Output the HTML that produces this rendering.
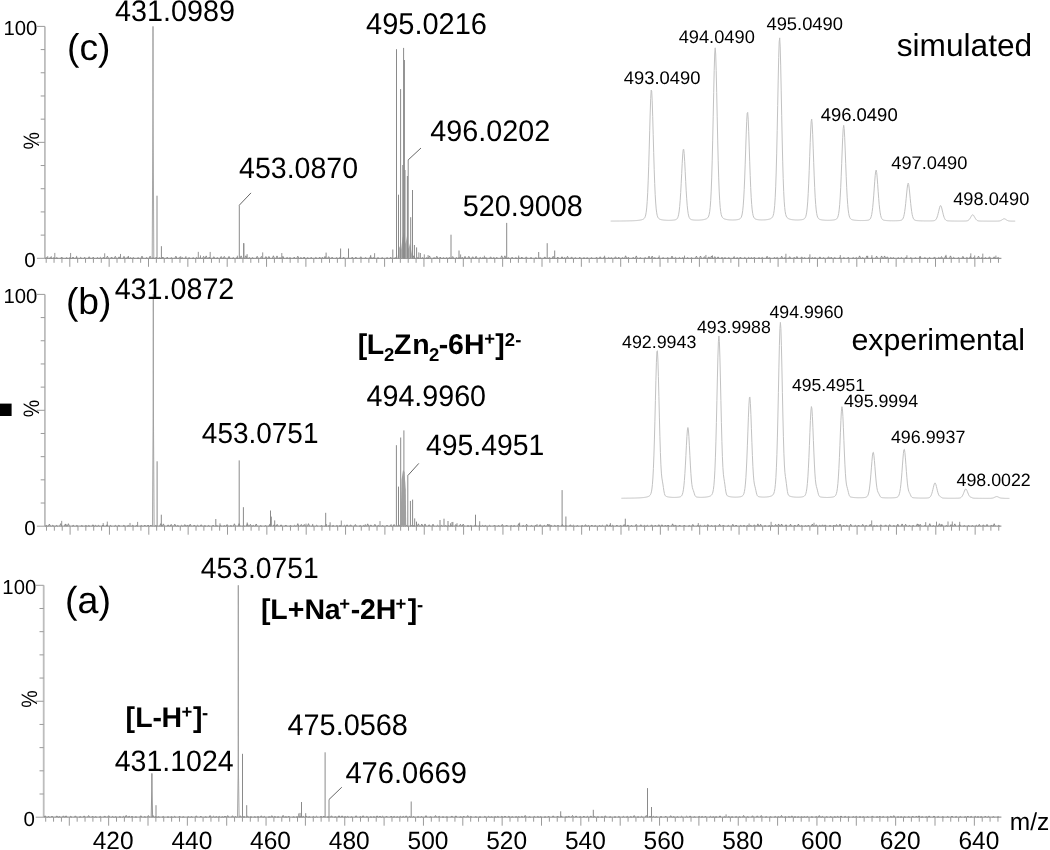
<!DOCTYPE html>
<html><head><meta charset="utf-8"><style>
html,body{margin:0;padding:0;background:#fff;}
body{width:1050px;height:850px;overflow:hidden;}
svg{display:block;filter:grayscale(1);}
text{font-family:"Liberation Sans", sans-serif;text-rendering:geometricPrecision;}
</style></head><body>
<svg width="1050" height="850" viewBox="0 0 1050 850">
<rect x="0" y="0" width="1050" height="850" fill="#fff"/>
<rect x="0" y="403.6" width="11.6" height="12.4" fill="#000"/>
<line x1="44.90" y1="26.40" x2="44.90" y2="258.30" stroke="#bdbdbd" stroke-width="1.8"/>
<line x1="36.90" y1="258.30" x2="44.90" y2="258.30" stroke="#9a9a9a" stroke-width="1"/>
<line x1="40.70" y1="235.11" x2="44.90" y2="235.11" stroke="#9a9a9a" stroke-width="1"/>
<line x1="40.70" y1="211.92" x2="44.90" y2="211.92" stroke="#9a9a9a" stroke-width="1"/>
<line x1="40.70" y1="188.73" x2="44.90" y2="188.73" stroke="#9a9a9a" stroke-width="1"/>
<line x1="40.70" y1="165.54" x2="44.90" y2="165.54" stroke="#9a9a9a" stroke-width="1"/>
<line x1="36.90" y1="142.35" x2="44.90" y2="142.35" stroke="#9a9a9a" stroke-width="1"/>
<line x1="40.70" y1="119.16" x2="44.90" y2="119.16" stroke="#9a9a9a" stroke-width="1"/>
<line x1="40.70" y1="95.97" x2="44.90" y2="95.97" stroke="#9a9a9a" stroke-width="1"/>
<line x1="40.70" y1="72.78" x2="44.90" y2="72.78" stroke="#9a9a9a" stroke-width="1"/>
<line x1="40.70" y1="49.59" x2="44.90" y2="49.59" stroke="#9a9a9a" stroke-width="1"/>
<line x1="36.90" y1="26.40" x2="44.90" y2="26.40" stroke="#9a9a9a" stroke-width="1"/>
<line x1="46.19" y1="258.30" x2="46.19" y2="262.80" stroke="#9a9a9a" stroke-width="1"/>
<line x1="54.06" y1="258.30" x2="54.06" y2="262.80" stroke="#9a9a9a" stroke-width="1"/>
<line x1="61.93" y1="258.30" x2="61.93" y2="262.80" stroke="#9a9a9a" stroke-width="1"/>
<line x1="69.80" y1="258.30" x2="69.80" y2="266.80" stroke="#9a9a9a" stroke-width="1"/>
<line x1="77.67" y1="258.30" x2="77.67" y2="262.80" stroke="#9a9a9a" stroke-width="1"/>
<line x1="85.54" y1="258.30" x2="85.54" y2="262.80" stroke="#9a9a9a" stroke-width="1"/>
<line x1="93.41" y1="258.30" x2="93.41" y2="262.80" stroke="#9a9a9a" stroke-width="1"/>
<line x1="101.28" y1="258.30" x2="101.28" y2="262.80" stroke="#9a9a9a" stroke-width="1"/>
<line x1="109.15" y1="258.30" x2="109.15" y2="266.80" stroke="#9a9a9a" stroke-width="1"/>
<line x1="117.02" y1="258.30" x2="117.02" y2="262.80" stroke="#9a9a9a" stroke-width="1"/>
<line x1="124.89" y1="258.30" x2="124.89" y2="262.80" stroke="#9a9a9a" stroke-width="1"/>
<line x1="132.76" y1="258.30" x2="132.76" y2="262.80" stroke="#9a9a9a" stroke-width="1"/>
<line x1="140.63" y1="258.30" x2="140.63" y2="262.80" stroke="#9a9a9a" stroke-width="1"/>
<line x1="148.50" y1="258.30" x2="148.50" y2="266.80" stroke="#9a9a9a" stroke-width="1"/>
<line x1="156.37" y1="258.30" x2="156.37" y2="262.80" stroke="#9a9a9a" stroke-width="1"/>
<line x1="164.24" y1="258.30" x2="164.24" y2="262.80" stroke="#9a9a9a" stroke-width="1"/>
<line x1="172.11" y1="258.30" x2="172.11" y2="262.80" stroke="#9a9a9a" stroke-width="1"/>
<line x1="179.98" y1="258.30" x2="179.98" y2="262.80" stroke="#9a9a9a" stroke-width="1"/>
<line x1="187.85" y1="258.30" x2="187.85" y2="266.80" stroke="#9a9a9a" stroke-width="1"/>
<line x1="195.72" y1="258.30" x2="195.72" y2="262.80" stroke="#9a9a9a" stroke-width="1"/>
<line x1="203.59" y1="258.30" x2="203.59" y2="262.80" stroke="#9a9a9a" stroke-width="1"/>
<line x1="211.46" y1="258.30" x2="211.46" y2="262.80" stroke="#9a9a9a" stroke-width="1"/>
<line x1="219.33" y1="258.30" x2="219.33" y2="262.80" stroke="#9a9a9a" stroke-width="1"/>
<line x1="227.20" y1="258.30" x2="227.20" y2="266.80" stroke="#9a9a9a" stroke-width="1"/>
<line x1="235.07" y1="258.30" x2="235.07" y2="262.80" stroke="#9a9a9a" stroke-width="1"/>
<line x1="242.94" y1="258.30" x2="242.94" y2="262.80" stroke="#9a9a9a" stroke-width="1"/>
<line x1="250.81" y1="258.30" x2="250.81" y2="262.80" stroke="#9a9a9a" stroke-width="1"/>
<line x1="258.68" y1="258.30" x2="258.68" y2="262.80" stroke="#9a9a9a" stroke-width="1"/>
<line x1="266.55" y1="258.30" x2="266.55" y2="266.80" stroke="#9a9a9a" stroke-width="1"/>
<line x1="274.42" y1="258.30" x2="274.42" y2="262.80" stroke="#9a9a9a" stroke-width="1"/>
<line x1="282.29" y1="258.30" x2="282.29" y2="262.80" stroke="#9a9a9a" stroke-width="1"/>
<line x1="290.16" y1="258.30" x2="290.16" y2="262.80" stroke="#9a9a9a" stroke-width="1"/>
<line x1="298.03" y1="258.30" x2="298.03" y2="262.80" stroke="#9a9a9a" stroke-width="1"/>
<line x1="305.90" y1="258.30" x2="305.90" y2="266.80" stroke="#9a9a9a" stroke-width="1"/>
<line x1="313.77" y1="258.30" x2="313.77" y2="262.80" stroke="#9a9a9a" stroke-width="1"/>
<line x1="321.64" y1="258.30" x2="321.64" y2="262.80" stroke="#9a9a9a" stroke-width="1"/>
<line x1="329.51" y1="258.30" x2="329.51" y2="262.80" stroke="#9a9a9a" stroke-width="1"/>
<line x1="337.38" y1="258.30" x2="337.38" y2="262.80" stroke="#9a9a9a" stroke-width="1"/>
<line x1="345.25" y1="258.30" x2="345.25" y2="266.80" stroke="#9a9a9a" stroke-width="1"/>
<line x1="353.12" y1="258.30" x2="353.12" y2="262.80" stroke="#9a9a9a" stroke-width="1"/>
<line x1="360.99" y1="258.30" x2="360.99" y2="262.80" stroke="#9a9a9a" stroke-width="1"/>
<line x1="368.86" y1="258.30" x2="368.86" y2="262.80" stroke="#9a9a9a" stroke-width="1"/>
<line x1="376.73" y1="258.30" x2="376.73" y2="262.80" stroke="#9a9a9a" stroke-width="1"/>
<line x1="384.60" y1="258.30" x2="384.60" y2="266.80" stroke="#9a9a9a" stroke-width="1"/>
<line x1="392.47" y1="258.30" x2="392.47" y2="262.80" stroke="#9a9a9a" stroke-width="1"/>
<line x1="400.34" y1="258.30" x2="400.34" y2="262.80" stroke="#9a9a9a" stroke-width="1"/>
<line x1="408.21" y1="258.30" x2="408.21" y2="262.80" stroke="#9a9a9a" stroke-width="1"/>
<line x1="416.08" y1="258.30" x2="416.08" y2="262.80" stroke="#9a9a9a" stroke-width="1"/>
<line x1="423.95" y1="258.30" x2="423.95" y2="266.80" stroke="#9a9a9a" stroke-width="1"/>
<line x1="431.82" y1="258.30" x2="431.82" y2="262.80" stroke="#9a9a9a" stroke-width="1"/>
<line x1="439.69" y1="258.30" x2="439.69" y2="262.80" stroke="#9a9a9a" stroke-width="1"/>
<line x1="447.56" y1="258.30" x2="447.56" y2="262.80" stroke="#9a9a9a" stroke-width="1"/>
<line x1="455.43" y1="258.30" x2="455.43" y2="262.80" stroke="#9a9a9a" stroke-width="1"/>
<line x1="463.30" y1="258.30" x2="463.30" y2="266.80" stroke="#9a9a9a" stroke-width="1"/>
<line x1="471.17" y1="258.30" x2="471.17" y2="262.80" stroke="#9a9a9a" stroke-width="1"/>
<line x1="479.04" y1="258.30" x2="479.04" y2="262.80" stroke="#9a9a9a" stroke-width="1"/>
<line x1="486.91" y1="258.30" x2="486.91" y2="262.80" stroke="#9a9a9a" stroke-width="1"/>
<line x1="494.78" y1="258.30" x2="494.78" y2="262.80" stroke="#9a9a9a" stroke-width="1"/>
<line x1="502.65" y1="258.30" x2="502.65" y2="266.80" stroke="#9a9a9a" stroke-width="1"/>
<line x1="510.52" y1="258.30" x2="510.52" y2="262.80" stroke="#9a9a9a" stroke-width="1"/>
<line x1="518.39" y1="258.30" x2="518.39" y2="262.80" stroke="#9a9a9a" stroke-width="1"/>
<line x1="526.26" y1="258.30" x2="526.26" y2="262.80" stroke="#9a9a9a" stroke-width="1"/>
<line x1="534.13" y1="258.30" x2="534.13" y2="262.80" stroke="#9a9a9a" stroke-width="1"/>
<line x1="542.00" y1="258.30" x2="542.00" y2="266.80" stroke="#9a9a9a" stroke-width="1"/>
<line x1="549.87" y1="258.30" x2="549.87" y2="262.80" stroke="#9a9a9a" stroke-width="1"/>
<line x1="557.74" y1="258.30" x2="557.74" y2="262.80" stroke="#9a9a9a" stroke-width="1"/>
<line x1="565.61" y1="258.30" x2="565.61" y2="262.80" stroke="#9a9a9a" stroke-width="1"/>
<line x1="573.48" y1="258.30" x2="573.48" y2="262.80" stroke="#9a9a9a" stroke-width="1"/>
<line x1="581.35" y1="258.30" x2="581.35" y2="266.80" stroke="#9a9a9a" stroke-width="1"/>
<line x1="589.22" y1="258.30" x2="589.22" y2="262.80" stroke="#9a9a9a" stroke-width="1"/>
<line x1="597.09" y1="258.30" x2="597.09" y2="262.80" stroke="#9a9a9a" stroke-width="1"/>
<line x1="604.96" y1="258.30" x2="604.96" y2="262.80" stroke="#9a9a9a" stroke-width="1"/>
<line x1="612.83" y1="258.30" x2="612.83" y2="262.80" stroke="#9a9a9a" stroke-width="1"/>
<line x1="620.70" y1="258.30" x2="620.70" y2="266.80" stroke="#9a9a9a" stroke-width="1"/>
<line x1="628.57" y1="258.30" x2="628.57" y2="262.80" stroke="#9a9a9a" stroke-width="1"/>
<line x1="636.44" y1="258.30" x2="636.44" y2="262.80" stroke="#9a9a9a" stroke-width="1"/>
<line x1="644.31" y1="258.30" x2="644.31" y2="262.80" stroke="#9a9a9a" stroke-width="1"/>
<line x1="652.18" y1="258.30" x2="652.18" y2="262.80" stroke="#9a9a9a" stroke-width="1"/>
<line x1="660.05" y1="258.30" x2="660.05" y2="266.80" stroke="#9a9a9a" stroke-width="1"/>
<line x1="667.92" y1="258.30" x2="667.92" y2="262.80" stroke="#9a9a9a" stroke-width="1"/>
<line x1="675.79" y1="258.30" x2="675.79" y2="262.80" stroke="#9a9a9a" stroke-width="1"/>
<line x1="683.66" y1="258.30" x2="683.66" y2="262.80" stroke="#9a9a9a" stroke-width="1"/>
<line x1="691.53" y1="258.30" x2="691.53" y2="262.80" stroke="#9a9a9a" stroke-width="1"/>
<line x1="699.40" y1="258.30" x2="699.40" y2="266.80" stroke="#9a9a9a" stroke-width="1"/>
<line x1="707.27" y1="258.30" x2="707.27" y2="262.80" stroke="#9a9a9a" stroke-width="1"/>
<line x1="715.14" y1="258.30" x2="715.14" y2="262.80" stroke="#9a9a9a" stroke-width="1"/>
<line x1="723.01" y1="258.30" x2="723.01" y2="262.80" stroke="#9a9a9a" stroke-width="1"/>
<line x1="730.88" y1="258.30" x2="730.88" y2="262.80" stroke="#9a9a9a" stroke-width="1"/>
<line x1="738.75" y1="258.30" x2="738.75" y2="266.80" stroke="#9a9a9a" stroke-width="1"/>
<line x1="746.62" y1="258.30" x2="746.62" y2="262.80" stroke="#9a9a9a" stroke-width="1"/>
<line x1="754.49" y1="258.30" x2="754.49" y2="262.80" stroke="#9a9a9a" stroke-width="1"/>
<line x1="762.36" y1="258.30" x2="762.36" y2="262.80" stroke="#9a9a9a" stroke-width="1"/>
<line x1="770.23" y1="258.30" x2="770.23" y2="262.80" stroke="#9a9a9a" stroke-width="1"/>
<line x1="778.10" y1="258.30" x2="778.10" y2="266.80" stroke="#9a9a9a" stroke-width="1"/>
<line x1="785.97" y1="258.30" x2="785.97" y2="262.80" stroke="#9a9a9a" stroke-width="1"/>
<line x1="793.84" y1="258.30" x2="793.84" y2="262.80" stroke="#9a9a9a" stroke-width="1"/>
<line x1="801.71" y1="258.30" x2="801.71" y2="262.80" stroke="#9a9a9a" stroke-width="1"/>
<line x1="809.58" y1="258.30" x2="809.58" y2="262.80" stroke="#9a9a9a" stroke-width="1"/>
<line x1="817.45" y1="258.30" x2="817.45" y2="266.80" stroke="#9a9a9a" stroke-width="1"/>
<line x1="825.32" y1="258.30" x2="825.32" y2="262.80" stroke="#9a9a9a" stroke-width="1"/>
<line x1="833.19" y1="258.30" x2="833.19" y2="262.80" stroke="#9a9a9a" stroke-width="1"/>
<line x1="841.06" y1="258.30" x2="841.06" y2="262.80" stroke="#9a9a9a" stroke-width="1"/>
<line x1="848.93" y1="258.30" x2="848.93" y2="262.80" stroke="#9a9a9a" stroke-width="1"/>
<line x1="856.80" y1="258.30" x2="856.80" y2="266.80" stroke="#9a9a9a" stroke-width="1"/>
<line x1="864.67" y1="258.30" x2="864.67" y2="262.80" stroke="#9a9a9a" stroke-width="1"/>
<line x1="872.54" y1="258.30" x2="872.54" y2="262.80" stroke="#9a9a9a" stroke-width="1"/>
<line x1="880.41" y1="258.30" x2="880.41" y2="262.80" stroke="#9a9a9a" stroke-width="1"/>
<line x1="888.28" y1="258.30" x2="888.28" y2="262.80" stroke="#9a9a9a" stroke-width="1"/>
<line x1="896.15" y1="258.30" x2="896.15" y2="266.80" stroke="#9a9a9a" stroke-width="1"/>
<line x1="904.02" y1="258.30" x2="904.02" y2="262.80" stroke="#9a9a9a" stroke-width="1"/>
<line x1="911.89" y1="258.30" x2="911.89" y2="262.80" stroke="#9a9a9a" stroke-width="1"/>
<line x1="919.76" y1="258.30" x2="919.76" y2="262.80" stroke="#9a9a9a" stroke-width="1"/>
<line x1="927.63" y1="258.30" x2="927.63" y2="262.80" stroke="#9a9a9a" stroke-width="1"/>
<line x1="935.50" y1="258.30" x2="935.50" y2="266.80" stroke="#9a9a9a" stroke-width="1"/>
<line x1="943.37" y1="258.30" x2="943.37" y2="262.80" stroke="#9a9a9a" stroke-width="1"/>
<line x1="951.24" y1="258.30" x2="951.24" y2="262.80" stroke="#9a9a9a" stroke-width="1"/>
<line x1="959.11" y1="258.30" x2="959.11" y2="262.80" stroke="#9a9a9a" stroke-width="1"/>
<line x1="966.98" y1="258.30" x2="966.98" y2="262.80" stroke="#9a9a9a" stroke-width="1"/>
<line x1="974.85" y1="258.30" x2="974.85" y2="266.80" stroke="#9a9a9a" stroke-width="1"/>
<line x1="982.72" y1="258.30" x2="982.72" y2="262.80" stroke="#9a9a9a" stroke-width="1"/>
<line x1="990.59" y1="258.30" x2="990.59" y2="262.80" stroke="#9a9a9a" stroke-width="1"/>
<line x1="998.46" y1="258.30" x2="998.46" y2="262.80" stroke="#9a9a9a" stroke-width="1"/>
<line x1="44.90" y1="258.30" x2="1001.40" y2="258.30" stroke="#9a9a9a" stroke-width="1.3"/>
<path d="M45.4 258.30L46.4 257.49L47.4 258.30M49.3 258.30L50.3 257.43L51.3 258.30M52.9 258.30L53.9 257.69L54.9 258.30M55.8 258.30L56.8 257.60L57.8 258.30M60.7 258.30L61.7 257.03L62.7 258.30M65.6 258.30L66.6 257.70L67.6 258.30M68.9 258.30L69.9 257.66L70.9 258.30M72.0 258.30L73.0 257.02L74.0 258.30M75.5 258.30L76.5 257.10L77.5 258.30M79.7 258.30L80.7 257.33L81.7 258.30M83.7 258.30L84.7 257.29L85.7 258.30M88.2 258.30L89.2 256.72L90.2 258.30M92.2 258.30L93.2 257.15L94.2 258.30M96.5 258.30L97.5 257.53L98.5 258.30M99.4 258.30L100.4 257.35L101.4 258.30M102.4 258.30L103.4 257.22L104.4 258.30M106.4 258.30L107.4 256.17L108.4 258.30M110.6 258.30L111.6 256.99L112.6 258.30M114.3 258.30L115.3 256.29L116.3 258.30M118.1 258.30L119.1 256.82L120.1 258.30M123.0 258.30L124.0 256.35L125.0 258.30M126.6 258.30L127.6 256.81L128.6 258.30M129.5 258.30L130.5 257.69L131.5 258.30M132.4 258.30L133.4 257.58L134.4 258.30M137.1 258.30L138.1 257.69L139.1 258.30M141.0 258.30L142.0 256.14L143.0 258.30M145.6 258.30L146.6 257.54L147.6 258.30M149.1 258.30L150.1 256.14L151.1 258.30M152.1 258.30L153.1 257.64L154.1 258.30M155.2 258.30L156.2 257.23L157.2 258.30M158.5 258.30L159.5 257.70L160.5 258.30M161.9 258.30L162.9 257.06L163.9 258.30M166.2 258.30L167.2 257.17L168.2 258.30M170.4 258.30L171.4 257.69L172.4 258.30M174.9 258.30L175.9 256.17L176.9 258.30M178.4 258.30L179.4 257.38L180.4 258.30M181.2 258.30L182.2 257.61L183.2 258.30M184.6 258.30L185.6 257.69L186.6 258.30M188.1 258.30L189.1 257.70L190.1 258.30M192.2 258.30L193.2 257.66L194.2 258.30M195.6 258.30L196.6 257.43L197.6 258.30M199.3 258.30L200.3 257.23L201.3 258.30M202.6 258.30L203.6 256.33L204.6 258.30M205.2 258.30L206.2 255.89L207.2 258.30M208.2 258.30L209.2 257.11L210.2 258.30M212.8 258.30L213.8 256.73L214.8 258.30M216.3 258.30L217.3 257.64L218.3 258.30M220.2 258.30L221.2 256.49L222.2 258.30M223.3 258.30L224.3 256.38L225.3 258.30M228.0 258.30L229.0 256.40L230.0 258.30M232.3 258.30L233.3 257.60L234.3 258.30M235.8 258.30L236.8 257.70L237.8 258.30M240.1 258.30L241.1 255.87L242.1 258.30M244.9 258.30L245.9 255.75L246.9 258.30M248.4 258.30L249.4 257.60L250.4 258.30M251.5 258.30L252.5 257.62L253.5 258.30M256.2 258.30L257.2 256.29L258.2 258.30M260.4 258.30L261.4 256.42L262.4 258.30M264.9 258.30L265.9 256.57L266.9 258.30M267.9 258.30L268.9 256.45L269.9 258.30M272.4 258.30L273.4 255.81L274.4 258.30M276.0 258.30L277.0 255.91L278.0 258.30M279.0 258.30L280.0 257.67L281.0 258.30M281.9 258.30L282.9 256.33L283.9 258.30M286.1 258.30L287.1 257.45L288.1 258.30M289.0 258.30L290.0 257.70L291.0 258.30M293.2 258.30L294.2 257.15L295.2 258.30M296.8 258.30L297.8 256.18L298.8 258.30M299.9 258.30L300.9 257.57L301.9 258.30M303.1 258.30L304.1 257.01L305.1 258.30M306.7 258.30L307.7 257.67L308.7 258.30M310.2 258.30L311.2 257.28L312.2 258.30M314.9 258.30L315.9 257.35L316.9 258.30M318.7 258.30L319.7 257.13L320.7 258.30M321.4 258.30L322.4 257.31L323.4 258.30M324.0 258.30L325.0 256.42L326.0 258.30M327.7 258.30L328.7 256.65L329.7 258.30M331.1 258.30L332.1 257.16L333.1 258.30M335.6 258.30L336.6 257.68L337.6 258.30M338.8 258.30L339.8 257.55L340.8 258.30M342.6 258.30L343.6 257.07L344.6 258.30M347.4 258.30L348.4 257.31L349.4 258.30M351.2 258.30L352.2 257.18L353.2 258.30M354.9 258.30L355.9 257.13L356.9 258.30M359.8 258.30L360.8 256.72L361.8 258.30M364.6 258.30L365.6 257.57L366.6 258.30M369.5 258.30L370.5 256.29L371.5 258.30M372.3 258.30L373.3 257.58L374.3 258.30M377.0 258.30L378.0 257.65L379.0 258.30M381.2 258.30L382.2 257.66L383.2 258.30M386.1 258.30L387.1 257.60L388.1 258.30M389.7 258.30L390.7 257.23L391.7 258.30M394.3 258.30L395.3 257.65L396.3 258.30M398.1 258.30L399.1 257.47L400.1 258.30M401.5 258.30L402.5 256.66L403.5 258.30M404.1 258.30L405.1 257.48L406.1 258.30M407.9 258.30L408.9 257.69L409.9 258.30M412.4 258.30L413.4 255.81L414.4 258.30M416.9 258.30L417.9 257.55L418.9 258.30M421.5 258.30L422.5 257.57L423.5 258.30M425.8 258.30L426.8 257.68L427.8 258.30M428.5 258.30L429.5 255.94L430.5 258.30M433.1 258.30L434.1 257.69L435.1 258.30M435.8 258.30L436.8 256.21L437.8 258.30M439.2 258.30L440.2 257.09L441.2 258.30M442.5 258.30L443.5 257.67L444.5 258.30M445.6 258.30L446.6 257.68L447.6 258.30M448.4 258.30L449.4 257.62L450.4 258.30M451.7 258.30L452.7 256.55L453.7 258.30M455.5 258.30L456.5 257.64L457.5 258.30M458.1 258.30L459.1 257.57L460.1 258.30M461.2 258.30L462.2 257.25L463.2 258.30M464.0 258.30L465.0 256.36L466.0 258.30M467.8 258.30L468.8 256.31L469.8 258.30M471.7 258.30L472.7 256.75L473.7 258.30M475.1 258.30L476.1 256.31L477.1 258.30M479.2 258.30L480.2 257.37L481.2 258.30M481.9 258.30L482.9 257.67L483.9 258.30M484.9 258.30L485.9 257.69L486.9 258.30M489.6 258.30L490.6 256.80L491.6 258.30M492.8 258.30L493.8 257.53L494.8 258.30M495.8 258.30L496.8 257.30L497.8 258.30M500.7 258.30L501.7 255.81L502.7 258.30M503.9 258.30L504.9 255.83L505.9 258.30M507.3 258.30L508.3 257.70L509.3 258.30M511.1 258.30L512.1 257.19L513.1 258.30M514.9 258.30L515.9 257.70L516.9 258.30M517.7 258.30L518.7 257.38L519.7 258.30M520.8 258.30L521.8 257.01L522.8 258.30M525.3 258.30L526.3 256.84L527.3 258.30M530.0 258.30L531.0 257.40L532.0 258.30M534.9 258.30L535.9 257.66L536.9 258.30M539.1 258.30L540.1 257.70L541.1 258.30M543.8 258.30L544.8 256.91L545.8 258.30M548.4 258.30L549.4 257.66L550.4 258.30M552.2 258.30L553.2 256.31L554.2 258.30M556.8 258.30L557.8 257.02L558.8 258.30M561.0 258.30L562.0 256.74L563.0 258.30M563.7 258.30L564.7 257.66L565.7 258.30M566.5 258.30L567.5 256.30L568.5 258.30M570.6 258.30L571.6 256.92L572.6 258.30M574.4 258.30L575.4 257.70L576.4 258.30M578.8 258.30L579.8 257.19L580.8 258.30M583.0 258.30L584.0 257.69L585.0 258.30M586.2 258.30L587.2 257.69L588.2 258.30M590.5 258.30L591.5 257.62L592.5 258.30M595.5 258.30L596.5 257.21L597.5 258.30M599.2 258.30L600.2 256.77L601.2 258.30M603.3 258.30L604.3 256.87L605.3 258.30M607.7 258.30L608.7 257.51L609.7 258.30M610.3 258.30L611.3 257.69L612.3 258.30M614.5 258.30L615.5 256.74L616.5 258.30M617.8 258.30L618.8 257.17L619.8 258.30M621.5 258.30L622.5 257.67L623.5 258.30M624.6 258.30L625.6 255.79L626.6 258.30M627.3 258.30L628.3 257.28L629.3 258.30M632.2 258.30L633.2 257.30L634.2 258.30M635.3 258.30L636.3 255.91L637.3 258.30M639.3 258.30L640.3 257.66L641.3 258.30M644.2 258.30L645.2 257.66L646.2 258.30M648.0 258.30L649.0 256.13L650.0 258.30M651.2 258.30L652.2 256.09L653.2 258.30M653.8 258.30L654.8 257.70L655.8 258.30M657.5 258.30L658.5 257.52L659.5 258.30M662.1 258.30L663.1 257.70L664.1 258.30M666.7 258.30L667.7 257.67L668.7 258.30M671.0 258.30L672.0 256.07L673.0 258.30M674.5 258.30L675.5 257.39L676.5 258.30M678.5 258.30L679.5 257.44L680.5 258.30M681.8 258.30L682.8 257.70L683.8 258.30M686.6 258.30L687.6 257.58L688.6 258.30M690.5 258.30L691.5 257.63L692.5 258.30M695.4 258.30L696.4 256.14L697.4 258.30M699.5 258.30L700.5 256.03L701.5 258.30M703.4 258.30L704.4 256.66L705.4 258.30M707.8 258.30L708.8 256.87L709.8 258.30M710.5 258.30L711.5 255.98L712.5 258.30M713.8 258.30L714.8 256.61L715.8 258.30M717.1 258.30L718.1 256.84L719.1 258.30M721.0 258.30L722.0 257.39L723.0 258.30M724.0 258.30L725.0 257.61L726.0 258.30M727.8 258.30L728.8 257.60L729.8 258.30M732.8 258.30L733.8 257.30L734.8 258.30M736.2 258.30L737.2 257.68L738.2 258.30M739.4 258.30L740.4 257.05L741.4 258.30M743.8 258.30L744.8 257.36L745.8 258.30M747.7 258.30L748.7 257.42L749.7 258.30M750.4 258.30L751.4 257.55L752.4 258.30M753.3 258.30L754.3 257.19L755.3 258.30M758.0 258.30L759.0 257.61L760.0 258.30M761.2 258.30L762.2 257.38L763.2 258.30M766.1 258.30L767.1 256.26L768.1 258.30M768.7 258.30L769.7 257.70L770.7 258.30M773.5 258.30L774.5 257.25L775.5 258.30M776.1 258.30L777.1 257.39L778.1 258.30M780.7 258.30L781.7 256.24L782.7 258.30M783.9 258.30L784.9 257.68L785.9 258.30M788.7 258.30L789.7 256.66L790.7 258.30M793.2 258.30L794.2 257.28L795.2 258.30M795.9 258.30L796.9 256.48L797.9 258.30M800.7 258.30L801.7 256.87L802.7 258.30M803.6 258.30L804.6 257.57L805.6 258.30M807.8 258.30L808.8 257.67L809.8 258.30M811.4 258.30L812.4 257.60L813.4 258.30M814.0 258.30L815.0 257.52L816.0 258.30M818.9 258.30L819.9 256.87L820.9 258.30M822.6 258.30L823.6 257.59L824.6 258.30M827.5 258.30L828.5 256.71L829.5 258.30M830.2 258.30L831.2 257.20L832.2 258.30M833.8 258.30L834.8 257.57L835.8 258.30M838.6 258.30L839.6 257.60L840.6 258.30M842.9 258.30L843.9 257.62L844.9 258.30M847.2 258.30L848.2 257.19L849.2 258.30M852.2 258.30L853.2 257.51L854.2 258.30M855.3 258.30L856.3 257.60L857.3 258.30M858.6 258.30L859.6 255.89L860.6 258.30M861.7 258.30L862.7 257.60L863.7 258.30M865.9 258.30L866.9 255.90L867.9 258.30M870.8 258.30L871.8 257.66L872.8 258.30M875.6 258.30L876.6 256.14L877.6 258.30M880.6 258.30L881.6 255.96L882.6 258.30M883.6 258.30L884.6 255.95L885.6 258.30M886.3 258.30L887.3 256.82L888.3 258.30M889.8 258.30L890.8 257.48L891.8 258.30M892.4 258.30L893.4 257.54L894.4 258.30M897.3 258.30L898.3 257.67L899.3 258.30M900.4 258.30L901.4 257.45L902.4 258.30M905.0 258.30L906.0 257.33L907.0 258.30M909.8 258.30L910.8 257.63L911.8 258.30M914.5 258.30L915.5 257.70L916.5 258.30M919.1 258.30L920.1 256.52L921.1 258.30M923.9 258.30L924.9 257.57L925.9 258.30M928.6 258.30L929.6 257.47L930.6 258.30M933.5 258.30L934.5 256.94L935.5 258.30M937.8 258.30L938.8 257.50L939.8 258.30M940.5 258.30L941.5 256.56L942.5 258.30M944.6 258.30L945.6 255.92L946.6 258.30M949.5 258.30L950.5 255.88L951.5 258.30M952.7 258.30L953.7 257.33L954.7 258.30M957.5 258.30L958.5 257.63L959.5 258.30M961.9 258.30L962.9 256.35L963.9 258.30M965.9 258.30L966.9 257.49L967.9 258.30M969.4 258.30L970.4 256.48L971.4 258.30M972.6 258.30L973.6 257.69L974.6 258.30M977.5 258.30L978.5 256.14L979.5 258.30M980.8 258.30L981.8 257.69L982.8 258.30M984.5 258.30L985.5 257.59L986.5 258.30M988.5 258.30L989.5 256.79L990.5 258.30M993.2 258.30L994.2 256.82L995.2 258.30M997.1 258.30L998.1 257.42L999.1 258.30" stroke="#7a7a7a" stroke-width="0.8" fill="none" stroke-linejoin="round"/><path d="M47.7 258.30V256.21M51.3 258.30V256.27M54.8 258.30V252.92M70.6 258.30V252.98M76.6 258.30V255.88M104.7 258.30V253.29M120.5 258.30V253.96M128.5 258.30V255.99M180.7 258.30V256.23M185.9 258.30V256.15M198.3 258.30V251.85M200.5 258.30V255.40M210.2 258.30V251.94M237.4 258.30V255.71M262.7 258.30V252.40M281.8 258.30V253.04M370.7 258.30V254.98M374.6 258.30V253.18M403.6 258.30V254.98M414.0 258.30V256.26M418.8 258.30V252.38M424.3 258.30V254.36M428.1 258.30V255.05M460.6 258.30V254.46M484.4 258.30V255.72M518.7 258.30V255.54M604.6 258.30V255.72M659.2 258.30V255.50M684.5 258.30V255.61M705.9 258.30V254.94M712.5 258.30V255.39M734.2 258.30V256.18M785.9 258.30V253.77M809.9 258.30V254.30M840.3 258.30V255.07M867.7 258.30V255.86M871.9 258.30V255.19M906.9 258.30V255.28M920.1 258.30V256.23M946.0 258.30V254.83M970.8 258.30V253.36M974.7 258.30V255.46M982.8 258.30V253.61M995.9 258.30V255.58" stroke="#8a8a8a" stroke-width="0.9" fill="none"/>
<line x1="44.90" y1="294.40" x2="44.90" y2="526.20" stroke="#bdbdbd" stroke-width="1.8"/>
<line x1="36.90" y1="526.20" x2="44.90" y2="526.20" stroke="#9a9a9a" stroke-width="1"/>
<line x1="40.70" y1="503.02" x2="44.90" y2="503.02" stroke="#9a9a9a" stroke-width="1"/>
<line x1="40.70" y1="479.84" x2="44.90" y2="479.84" stroke="#9a9a9a" stroke-width="1"/>
<line x1="40.70" y1="456.66" x2="44.90" y2="456.66" stroke="#9a9a9a" stroke-width="1"/>
<line x1="40.70" y1="433.48" x2="44.90" y2="433.48" stroke="#9a9a9a" stroke-width="1"/>
<line x1="36.90" y1="410.30" x2="44.90" y2="410.30" stroke="#9a9a9a" stroke-width="1"/>
<line x1="40.70" y1="387.12" x2="44.90" y2="387.12" stroke="#9a9a9a" stroke-width="1"/>
<line x1="40.70" y1="363.94" x2="44.90" y2="363.94" stroke="#9a9a9a" stroke-width="1"/>
<line x1="40.70" y1="340.76" x2="44.90" y2="340.76" stroke="#9a9a9a" stroke-width="1"/>
<line x1="40.70" y1="317.58" x2="44.90" y2="317.58" stroke="#9a9a9a" stroke-width="1"/>
<line x1="36.90" y1="294.40" x2="44.90" y2="294.40" stroke="#9a9a9a" stroke-width="1"/>
<line x1="46.49" y1="526.20" x2="46.49" y2="530.70" stroke="#9a9a9a" stroke-width="1"/>
<line x1="54.36" y1="526.20" x2="54.36" y2="530.70" stroke="#9a9a9a" stroke-width="1"/>
<line x1="62.23" y1="526.20" x2="62.23" y2="530.70" stroke="#9a9a9a" stroke-width="1"/>
<line x1="70.10" y1="526.20" x2="70.10" y2="534.70" stroke="#9a9a9a" stroke-width="1"/>
<line x1="77.97" y1="526.20" x2="77.97" y2="530.70" stroke="#9a9a9a" stroke-width="1"/>
<line x1="85.84" y1="526.20" x2="85.84" y2="530.70" stroke="#9a9a9a" stroke-width="1"/>
<line x1="93.71" y1="526.20" x2="93.71" y2="530.70" stroke="#9a9a9a" stroke-width="1"/>
<line x1="101.58" y1="526.20" x2="101.58" y2="530.70" stroke="#9a9a9a" stroke-width="1"/>
<line x1="109.45" y1="526.20" x2="109.45" y2="534.70" stroke="#9a9a9a" stroke-width="1"/>
<line x1="117.32" y1="526.20" x2="117.32" y2="530.70" stroke="#9a9a9a" stroke-width="1"/>
<line x1="125.19" y1="526.20" x2="125.19" y2="530.70" stroke="#9a9a9a" stroke-width="1"/>
<line x1="133.06" y1="526.20" x2="133.06" y2="530.70" stroke="#9a9a9a" stroke-width="1"/>
<line x1="140.93" y1="526.20" x2="140.93" y2="530.70" stroke="#9a9a9a" stroke-width="1"/>
<line x1="148.80" y1="526.20" x2="148.80" y2="534.70" stroke="#9a9a9a" stroke-width="1"/>
<line x1="156.67" y1="526.20" x2="156.67" y2="530.70" stroke="#9a9a9a" stroke-width="1"/>
<line x1="164.54" y1="526.20" x2="164.54" y2="530.70" stroke="#9a9a9a" stroke-width="1"/>
<line x1="172.41" y1="526.20" x2="172.41" y2="530.70" stroke="#9a9a9a" stroke-width="1"/>
<line x1="180.28" y1="526.20" x2="180.28" y2="530.70" stroke="#9a9a9a" stroke-width="1"/>
<line x1="188.15" y1="526.20" x2="188.15" y2="534.70" stroke="#9a9a9a" stroke-width="1"/>
<line x1="196.02" y1="526.20" x2="196.02" y2="530.70" stroke="#9a9a9a" stroke-width="1"/>
<line x1="203.89" y1="526.20" x2="203.89" y2="530.70" stroke="#9a9a9a" stroke-width="1"/>
<line x1="211.76" y1="526.20" x2="211.76" y2="530.70" stroke="#9a9a9a" stroke-width="1"/>
<line x1="219.63" y1="526.20" x2="219.63" y2="530.70" stroke="#9a9a9a" stroke-width="1"/>
<line x1="227.50" y1="526.20" x2="227.50" y2="534.70" stroke="#9a9a9a" stroke-width="1"/>
<line x1="235.37" y1="526.20" x2="235.37" y2="530.70" stroke="#9a9a9a" stroke-width="1"/>
<line x1="243.24" y1="526.20" x2="243.24" y2="530.70" stroke="#9a9a9a" stroke-width="1"/>
<line x1="251.11" y1="526.20" x2="251.11" y2="530.70" stroke="#9a9a9a" stroke-width="1"/>
<line x1="258.98" y1="526.20" x2="258.98" y2="530.70" stroke="#9a9a9a" stroke-width="1"/>
<line x1="266.85" y1="526.20" x2="266.85" y2="534.70" stroke="#9a9a9a" stroke-width="1"/>
<line x1="274.72" y1="526.20" x2="274.72" y2="530.70" stroke="#9a9a9a" stroke-width="1"/>
<line x1="282.59" y1="526.20" x2="282.59" y2="530.70" stroke="#9a9a9a" stroke-width="1"/>
<line x1="290.46" y1="526.20" x2="290.46" y2="530.70" stroke="#9a9a9a" stroke-width="1"/>
<line x1="298.33" y1="526.20" x2="298.33" y2="530.70" stroke="#9a9a9a" stroke-width="1"/>
<line x1="306.20" y1="526.20" x2="306.20" y2="534.70" stroke="#9a9a9a" stroke-width="1"/>
<line x1="314.07" y1="526.20" x2="314.07" y2="530.70" stroke="#9a9a9a" stroke-width="1"/>
<line x1="321.94" y1="526.20" x2="321.94" y2="530.70" stroke="#9a9a9a" stroke-width="1"/>
<line x1="329.81" y1="526.20" x2="329.81" y2="530.70" stroke="#9a9a9a" stroke-width="1"/>
<line x1="337.68" y1="526.20" x2="337.68" y2="530.70" stroke="#9a9a9a" stroke-width="1"/>
<line x1="345.55" y1="526.20" x2="345.55" y2="534.70" stroke="#9a9a9a" stroke-width="1"/>
<line x1="353.42" y1="526.20" x2="353.42" y2="530.70" stroke="#9a9a9a" stroke-width="1"/>
<line x1="361.29" y1="526.20" x2="361.29" y2="530.70" stroke="#9a9a9a" stroke-width="1"/>
<line x1="369.16" y1="526.20" x2="369.16" y2="530.70" stroke="#9a9a9a" stroke-width="1"/>
<line x1="377.03" y1="526.20" x2="377.03" y2="530.70" stroke="#9a9a9a" stroke-width="1"/>
<line x1="384.90" y1="526.20" x2="384.90" y2="534.70" stroke="#9a9a9a" stroke-width="1"/>
<line x1="392.77" y1="526.20" x2="392.77" y2="530.70" stroke="#9a9a9a" stroke-width="1"/>
<line x1="400.64" y1="526.20" x2="400.64" y2="530.70" stroke="#9a9a9a" stroke-width="1"/>
<line x1="408.51" y1="526.20" x2="408.51" y2="530.70" stroke="#9a9a9a" stroke-width="1"/>
<line x1="416.38" y1="526.20" x2="416.38" y2="530.70" stroke="#9a9a9a" stroke-width="1"/>
<line x1="424.25" y1="526.20" x2="424.25" y2="534.70" stroke="#9a9a9a" stroke-width="1"/>
<line x1="432.12" y1="526.20" x2="432.12" y2="530.70" stroke="#9a9a9a" stroke-width="1"/>
<line x1="439.99" y1="526.20" x2="439.99" y2="530.70" stroke="#9a9a9a" stroke-width="1"/>
<line x1="447.86" y1="526.20" x2="447.86" y2="530.70" stroke="#9a9a9a" stroke-width="1"/>
<line x1="455.73" y1="526.20" x2="455.73" y2="530.70" stroke="#9a9a9a" stroke-width="1"/>
<line x1="463.60" y1="526.20" x2="463.60" y2="534.70" stroke="#9a9a9a" stroke-width="1"/>
<line x1="471.47" y1="526.20" x2="471.47" y2="530.70" stroke="#9a9a9a" stroke-width="1"/>
<line x1="479.34" y1="526.20" x2="479.34" y2="530.70" stroke="#9a9a9a" stroke-width="1"/>
<line x1="487.21" y1="526.20" x2="487.21" y2="530.70" stroke="#9a9a9a" stroke-width="1"/>
<line x1="495.08" y1="526.20" x2="495.08" y2="530.70" stroke="#9a9a9a" stroke-width="1"/>
<line x1="502.95" y1="526.20" x2="502.95" y2="534.70" stroke="#9a9a9a" stroke-width="1"/>
<line x1="510.82" y1="526.20" x2="510.82" y2="530.70" stroke="#9a9a9a" stroke-width="1"/>
<line x1="518.69" y1="526.20" x2="518.69" y2="530.70" stroke="#9a9a9a" stroke-width="1"/>
<line x1="526.56" y1="526.20" x2="526.56" y2="530.70" stroke="#9a9a9a" stroke-width="1"/>
<line x1="534.43" y1="526.20" x2="534.43" y2="530.70" stroke="#9a9a9a" stroke-width="1"/>
<line x1="542.30" y1="526.20" x2="542.30" y2="534.70" stroke="#9a9a9a" stroke-width="1"/>
<line x1="550.17" y1="526.20" x2="550.17" y2="530.70" stroke="#9a9a9a" stroke-width="1"/>
<line x1="558.04" y1="526.20" x2="558.04" y2="530.70" stroke="#9a9a9a" stroke-width="1"/>
<line x1="565.91" y1="526.20" x2="565.91" y2="530.70" stroke="#9a9a9a" stroke-width="1"/>
<line x1="573.78" y1="526.20" x2="573.78" y2="530.70" stroke="#9a9a9a" stroke-width="1"/>
<line x1="581.65" y1="526.20" x2="581.65" y2="534.70" stroke="#9a9a9a" stroke-width="1"/>
<line x1="589.52" y1="526.20" x2="589.52" y2="530.70" stroke="#9a9a9a" stroke-width="1"/>
<line x1="597.39" y1="526.20" x2="597.39" y2="530.70" stroke="#9a9a9a" stroke-width="1"/>
<line x1="605.26" y1="526.20" x2="605.26" y2="530.70" stroke="#9a9a9a" stroke-width="1"/>
<line x1="613.13" y1="526.20" x2="613.13" y2="530.70" stroke="#9a9a9a" stroke-width="1"/>
<line x1="621.00" y1="526.20" x2="621.00" y2="534.70" stroke="#9a9a9a" stroke-width="1"/>
<line x1="628.87" y1="526.20" x2="628.87" y2="530.70" stroke="#9a9a9a" stroke-width="1"/>
<line x1="636.74" y1="526.20" x2="636.74" y2="530.70" stroke="#9a9a9a" stroke-width="1"/>
<line x1="644.61" y1="526.20" x2="644.61" y2="530.70" stroke="#9a9a9a" stroke-width="1"/>
<line x1="652.48" y1="526.20" x2="652.48" y2="530.70" stroke="#9a9a9a" stroke-width="1"/>
<line x1="660.35" y1="526.20" x2="660.35" y2="534.70" stroke="#9a9a9a" stroke-width="1"/>
<line x1="668.22" y1="526.20" x2="668.22" y2="530.70" stroke="#9a9a9a" stroke-width="1"/>
<line x1="676.09" y1="526.20" x2="676.09" y2="530.70" stroke="#9a9a9a" stroke-width="1"/>
<line x1="683.96" y1="526.20" x2="683.96" y2="530.70" stroke="#9a9a9a" stroke-width="1"/>
<line x1="691.83" y1="526.20" x2="691.83" y2="530.70" stroke="#9a9a9a" stroke-width="1"/>
<line x1="699.70" y1="526.20" x2="699.70" y2="534.70" stroke="#9a9a9a" stroke-width="1"/>
<line x1="707.57" y1="526.20" x2="707.57" y2="530.70" stroke="#9a9a9a" stroke-width="1"/>
<line x1="715.44" y1="526.20" x2="715.44" y2="530.70" stroke="#9a9a9a" stroke-width="1"/>
<line x1="723.31" y1="526.20" x2="723.31" y2="530.70" stroke="#9a9a9a" stroke-width="1"/>
<line x1="731.18" y1="526.20" x2="731.18" y2="530.70" stroke="#9a9a9a" stroke-width="1"/>
<line x1="739.05" y1="526.20" x2="739.05" y2="534.70" stroke="#9a9a9a" stroke-width="1"/>
<line x1="746.92" y1="526.20" x2="746.92" y2="530.70" stroke="#9a9a9a" stroke-width="1"/>
<line x1="754.79" y1="526.20" x2="754.79" y2="530.70" stroke="#9a9a9a" stroke-width="1"/>
<line x1="762.66" y1="526.20" x2="762.66" y2="530.70" stroke="#9a9a9a" stroke-width="1"/>
<line x1="770.53" y1="526.20" x2="770.53" y2="530.70" stroke="#9a9a9a" stroke-width="1"/>
<line x1="778.40" y1="526.20" x2="778.40" y2="534.70" stroke="#9a9a9a" stroke-width="1"/>
<line x1="786.27" y1="526.20" x2="786.27" y2="530.70" stroke="#9a9a9a" stroke-width="1"/>
<line x1="794.14" y1="526.20" x2="794.14" y2="530.70" stroke="#9a9a9a" stroke-width="1"/>
<line x1="802.01" y1="526.20" x2="802.01" y2="530.70" stroke="#9a9a9a" stroke-width="1"/>
<line x1="809.88" y1="526.20" x2="809.88" y2="530.70" stroke="#9a9a9a" stroke-width="1"/>
<line x1="817.75" y1="526.20" x2="817.75" y2="534.70" stroke="#9a9a9a" stroke-width="1"/>
<line x1="825.62" y1="526.20" x2="825.62" y2="530.70" stroke="#9a9a9a" stroke-width="1"/>
<line x1="833.49" y1="526.20" x2="833.49" y2="530.70" stroke="#9a9a9a" stroke-width="1"/>
<line x1="841.36" y1="526.20" x2="841.36" y2="530.70" stroke="#9a9a9a" stroke-width="1"/>
<line x1="849.23" y1="526.20" x2="849.23" y2="530.70" stroke="#9a9a9a" stroke-width="1"/>
<line x1="857.10" y1="526.20" x2="857.10" y2="534.70" stroke="#9a9a9a" stroke-width="1"/>
<line x1="864.97" y1="526.20" x2="864.97" y2="530.70" stroke="#9a9a9a" stroke-width="1"/>
<line x1="872.84" y1="526.20" x2="872.84" y2="530.70" stroke="#9a9a9a" stroke-width="1"/>
<line x1="880.71" y1="526.20" x2="880.71" y2="530.70" stroke="#9a9a9a" stroke-width="1"/>
<line x1="888.58" y1="526.20" x2="888.58" y2="530.70" stroke="#9a9a9a" stroke-width="1"/>
<line x1="896.45" y1="526.20" x2="896.45" y2="534.70" stroke="#9a9a9a" stroke-width="1"/>
<line x1="904.32" y1="526.20" x2="904.32" y2="530.70" stroke="#9a9a9a" stroke-width="1"/>
<line x1="912.19" y1="526.20" x2="912.19" y2="530.70" stroke="#9a9a9a" stroke-width="1"/>
<line x1="920.06" y1="526.20" x2="920.06" y2="530.70" stroke="#9a9a9a" stroke-width="1"/>
<line x1="927.93" y1="526.20" x2="927.93" y2="530.70" stroke="#9a9a9a" stroke-width="1"/>
<line x1="935.80" y1="526.20" x2="935.80" y2="534.70" stroke="#9a9a9a" stroke-width="1"/>
<line x1="943.67" y1="526.20" x2="943.67" y2="530.70" stroke="#9a9a9a" stroke-width="1"/>
<line x1="951.54" y1="526.20" x2="951.54" y2="530.70" stroke="#9a9a9a" stroke-width="1"/>
<line x1="959.41" y1="526.20" x2="959.41" y2="530.70" stroke="#9a9a9a" stroke-width="1"/>
<line x1="967.28" y1="526.20" x2="967.28" y2="530.70" stroke="#9a9a9a" stroke-width="1"/>
<line x1="975.15" y1="526.20" x2="975.15" y2="534.70" stroke="#9a9a9a" stroke-width="1"/>
<line x1="983.02" y1="526.20" x2="983.02" y2="530.70" stroke="#9a9a9a" stroke-width="1"/>
<line x1="990.89" y1="526.20" x2="990.89" y2="530.70" stroke="#9a9a9a" stroke-width="1"/>
<line x1="998.76" y1="526.20" x2="998.76" y2="530.70" stroke="#9a9a9a" stroke-width="1"/>
<line x1="44.90" y1="526.20" x2="1001.40" y2="526.20" stroke="#9a9a9a" stroke-width="1.3"/>
<path d="M45.4 526.20L46.4 525.48L47.4 526.20M48.4 526.20L49.4 524.04L50.4 526.20M51.8 526.20L52.8 525.29L53.8 526.20M55.6 526.20L56.6 525.49L57.6 526.20M59.7 526.20L60.7 523.64L61.7 526.20M64.4 526.20L65.4 523.93L66.4 526.20M67.4 526.20L68.4 523.71L69.4 526.20M72.2 526.20L73.2 525.32L74.2 526.20M75.9 526.20L76.9 525.46L77.9 526.20M80.8 526.20L81.8 525.58L82.8 526.20M84.9 526.20L85.9 525.51L86.9 526.20M87.8 526.20L88.8 525.52L89.8 526.20M91.9 526.20L92.9 524.75L93.9 526.20M94.5 526.20L95.5 525.39L96.5 526.20M97.5 526.20L98.5 525.41L99.5 526.20M102.0 526.20L103.0 525.00L104.0 526.20M106.0 526.20L107.0 524.78L108.0 526.20M109.5 526.20L110.5 525.44L111.5 526.20M114.4 526.20L115.4 525.40L116.4 526.20M117.9 526.20L118.9 525.25L119.9 526.20M122.9 526.20L123.9 525.34L124.9 526.20M127.2 526.20L128.2 525.52L129.2 526.20M131.8 526.20L132.8 525.27L133.8 526.20M135.5 526.20L136.5 525.55L137.5 526.20M140.3 526.20L141.3 525.58L142.3 526.20M143.8 526.20L144.8 525.09L145.8 526.20M147.1 526.20L148.1 525.06L149.1 526.20M149.9 526.20L150.9 525.12L151.9 526.20M154.8 526.20L155.8 525.52L156.8 526.20M159.7 526.20L160.7 523.70L161.7 526.20M162.4 526.20L163.4 523.88L164.4 526.20M167.2 526.20L168.2 524.83L169.2 526.20M170.2 526.20L171.2 524.36L172.2 526.20M173.8 526.20L174.8 524.17L175.8 526.20M176.8 526.20L177.8 525.50L178.8 526.20M180.6 526.20L181.6 525.31L182.6 526.20M183.8 526.20L184.8 524.55L185.8 526.20M186.5 526.20L187.5 524.97L188.5 526.20M189.2 526.20L190.2 524.19L191.2 526.20M193.3 526.20L194.3 524.99L195.3 526.20M196.6 526.20L197.6 525.25L198.6 526.20M200.2 526.20L201.2 524.73L202.2 526.20M203.9 526.20L204.9 525.60L205.9 526.20M207.6 526.20L208.6 525.49L209.6 526.20M212.1 526.20L213.1 525.18L214.1 526.20M215.8 526.20L216.8 525.58L217.8 526.20M219.5 526.20L220.5 525.58L221.5 526.20M223.3 526.20L224.3 525.60L225.3 526.20M226.1 526.20L227.1 524.52L228.1 526.20M229.9 526.20L230.9 525.59L231.9 526.20M233.4 526.20L234.4 523.79L235.4 526.20M238.1 526.20L239.1 523.62L240.1 526.20M242.6 526.20L243.6 525.52L244.6 526.20M246.4 526.20L247.4 523.77L248.4 526.20M249.4 526.20L250.4 524.36L251.4 526.20M252.2 526.20L253.2 525.35L254.2 526.20M255.2 526.20L256.2 523.99L257.2 526.20M259.7 526.20L260.7 525.56L261.7 526.20M264.5 526.20L265.5 525.51L266.5 526.20M268.3 526.20L269.3 525.40L270.3 526.20M273.2 526.20L274.2 524.68L275.2 526.20M276.2 526.20L277.2 524.37L278.2 526.20M280.1 526.20L281.1 524.79L282.1 526.20M284.8 526.20L285.8 524.98L286.8 526.20M289.5 526.20L290.5 525.58L291.5 526.20M293.6 526.20L294.6 525.29L295.6 526.20M296.8 526.20L297.8 523.64L298.8 526.20M300.3 526.20L301.3 524.43L302.3 526.20M303.3 526.20L304.3 524.49L305.3 526.20M307.5 526.20L308.5 523.66L309.5 526.20M311.6 526.20L312.6 525.40L313.6 526.20M315.7 526.20L316.7 525.23L317.7 526.20M320.5 526.20L321.5 525.57L322.5 526.20M324.6 526.20L325.6 525.60L326.6 526.20M328.1 526.20L329.1 525.50L330.1 526.20M332.1 526.20L333.1 525.52L334.1 526.20M335.9 526.20L336.9 525.56L337.9 526.20M339.0 526.20L340.0 525.56L341.0 526.20M343.5 526.20L344.5 525.28L345.5 526.20M346.1 526.20L347.1 524.77L348.1 526.20M349.6 526.20L350.6 524.77L351.6 526.20M354.4 526.20L355.4 524.52L356.4 526.20M359.2 526.20L360.2 525.60L361.2 526.20M362.8 526.20L363.8 525.49L364.8 526.20M366.7 526.20L367.7 523.83L368.7 526.20M369.8 526.20L370.8 524.86L371.8 526.20M373.9 526.20L374.9 524.28L375.9 526.20M377.3 526.20L378.3 525.42L379.3 526.20M381.6 526.20L382.6 525.60L383.6 526.20M386.0 526.20L387.0 525.17L388.0 526.20M389.6 526.20L390.6 525.50L391.6 526.20M393.1 526.20L394.1 524.48L395.1 526.20M397.7 526.20L398.7 524.59L399.7 526.20M401.6 526.20L402.6 525.22L403.6 526.20M405.5 526.20L406.5 525.46L407.5 526.20M410.4 526.20L411.4 525.51L412.4 526.20M413.0 526.20L414.0 525.46L415.0 526.20M417.4 526.20L418.4 523.82L419.4 526.20M420.8 526.20L421.8 524.05L422.8 526.20M424.0 526.20L425.0 523.95L426.0 526.20M428.2 526.20L429.2 524.71L430.2 526.20M432.0 526.20L433.0 524.19L434.0 526.20M436.6 526.20L437.6 525.22L438.6 526.20M440.6 526.20L441.6 525.41L442.6 526.20M444.7 526.20L445.7 525.59L446.7 526.20M447.6 526.20L448.6 525.60L449.6 526.20M450.6 526.20L451.6 525.60L452.6 526.20M454.8 526.20L455.8 524.51L456.8 526.20M459.4 526.20L460.4 524.26L461.4 526.20M462.2 526.20L463.2 524.09L464.2 526.20M467.0 526.20L468.0 525.58L469.0 526.20M469.9 526.20L470.9 525.60L471.9 526.20M474.4 526.20L475.4 524.80L476.4 526.20M478.6 526.20L479.6 525.43L480.6 526.20M481.6 526.20L482.6 525.40L483.6 526.20M484.3 526.20L485.3 525.47L486.3 526.20M488.6 526.20L489.6 525.33L490.6 526.20M493.5 526.20L494.5 525.09L495.5 526.20M497.6 526.20L498.6 525.60L499.6 526.20M501.3 526.20L502.3 524.40L503.3 526.20M505.6 526.20L506.6 525.02L507.6 526.20M510.2 526.20L511.2 525.58L512.2 526.20M513.2 526.20L514.2 525.60L515.2 526.20M517.7 526.20L518.7 523.69L519.7 526.20M522.2 526.20L523.2 525.53L524.2 526.20M525.6 526.20L526.6 524.22L527.6 526.20M530.5 526.20L531.5 525.44L532.5 526.20M534.7 526.20L535.7 525.10L536.7 526.20M539.2 526.20L540.2 524.63L541.2 526.20M543.3 526.20L544.3 525.35L545.3 526.20M546.9 526.20L547.9 524.01L548.9 526.20M550.0 526.20L551.0 525.46L552.0 526.20M553.8 526.20L554.8 525.31L555.8 526.20M557.0 526.20L558.0 525.18L559.0 526.20M561.4 526.20L562.4 524.47L563.4 526.20M564.8 526.20L565.8 525.39L566.8 526.20M569.4 526.20L570.4 524.72L571.4 526.20M572.4 526.20L573.4 525.21L574.4 526.20M576.4 526.20L577.4 525.57L578.4 526.20M581.1 526.20L582.1 525.49L583.1 526.20M584.5 526.20L585.5 524.61L586.5 526.20M587.4 526.20L588.4 525.55L589.4 526.20M590.8 526.20L591.8 525.05L592.8 526.20M594.2 526.20L595.2 525.53L596.2 526.20M598.6 526.20L599.6 525.58L600.6 526.20M601.4 526.20L602.4 525.30L603.4 526.20M605.9 526.20L606.9 524.52L607.9 526.20M609.0 526.20L610.0 524.79L611.0 526.20M611.7 526.20L612.7 525.28L613.7 526.20M615.9 526.20L616.9 525.10L617.9 526.20M619.6 526.20L620.6 525.56L621.6 526.20M623.2 526.20L624.2 524.50L625.2 526.20M626.8 526.20L627.8 524.94L628.8 526.20M630.5 526.20L631.5 525.50L632.5 526.20M635.2 526.20L636.2 524.40L637.2 526.20M639.8 526.20L640.8 524.68L641.8 526.20M643.5 526.20L644.5 525.40L645.5 526.20M646.3 526.20L647.3 525.25L648.3 526.20M650.6 526.20L651.6 524.81L652.6 526.20M654.3 526.20L655.3 525.19L656.3 526.20M657.8 526.20L658.8 524.69L659.8 526.20M660.9 526.20L661.9 524.74L662.9 526.20M664.4 526.20L665.4 525.12L666.4 526.20M667.1 526.20L668.1 525.01L669.1 526.20M671.6 526.20L672.6 523.83L673.6 526.20M674.4 526.20L675.4 524.94L676.4 526.20M678.7 526.20L679.7 525.08L680.7 526.20M683.3 526.20L684.3 525.06L685.3 526.20M688.2 526.20L689.2 525.51L690.2 526.20M691.8 526.20L692.8 524.44L693.8 526.20M696.7 526.20L697.7 525.35L698.7 526.20M699.3 526.20L700.3 525.25L701.3 526.20M703.6 526.20L704.6 525.35L705.6 526.20M706.8 526.20L707.8 524.50L708.8 526.20M710.6 526.20L711.6 525.50L712.6 526.20M714.2 526.20L715.2 525.51L716.2 526.20M718.6 526.20L719.6 524.29L720.6 526.20M722.4 526.20L723.4 524.97L724.4 526.20M727.3 526.20L728.3 525.35L729.3 526.20M731.8 526.20L732.8 524.27L733.8 526.20M735.1 526.20L736.1 525.00L737.1 526.20M739.7 526.20L740.7 525.35L741.7 526.20M743.0 526.20L744.0 525.32L745.0 526.20M746.6 526.20L747.6 525.53L748.6 526.20M749.8 526.20L750.8 525.42L751.8 526.20M753.4 526.20L754.4 524.79L755.4 526.20M756.9 526.20L757.9 523.87L758.9 526.20M759.6 526.20L760.6 524.23L761.6 526.20M764.1 526.20L765.1 525.56L766.1 526.20M768.2 526.20L769.2 525.60L770.2 526.20M771.4 526.20L772.4 525.58L773.4 526.20M774.6 526.20L775.6 524.39L776.6 526.20M777.6 526.20L778.6 523.97L779.6 526.20M780.6 526.20L781.6 524.01L782.6 526.20M785.0 526.20L786.0 524.71L787.0 526.20M789.5 526.20L790.5 524.19L791.5 526.20M793.8 526.20L794.8 525.04L795.8 526.20M797.4 526.20L798.4 524.04L799.4 526.20M800.7 526.20L801.7 525.49L802.7 526.20M804.5 526.20L805.5 525.59L806.5 526.20M807.4 526.20L808.4 525.12L809.4 526.20M811.3 526.20L812.3 524.11L813.3 526.20M815.3 526.20L816.3 524.71L817.3 526.20M818.8 526.20L819.8 525.25L820.8 526.20M821.5 526.20L822.5 524.79L823.5 526.20M824.2 526.20L825.2 524.86L826.2 526.20M829.0 526.20L830.0 525.38L831.0 526.20M832.9 526.20L833.9 525.13L834.9 526.20M835.5 526.20L836.5 524.57L837.5 526.20M839.0 526.20L840.0 524.11L841.0 526.20M842.7 526.20L843.7 525.05L844.7 526.20M845.8 526.20L846.8 525.22L847.8 526.20M849.7 526.20L850.7 524.23L851.7 526.20M854.3 526.20L855.3 525.27L856.3 526.20M857.6 526.20L858.6 525.09L859.6 526.20M861.7 526.20L862.7 524.35L863.7 526.20M865.1 526.20L866.1 525.42L867.1 526.20M869.2 526.20L870.2 524.37L871.2 526.20M873.1 526.20L874.1 525.60L875.1 526.20M875.8 526.20L876.8 525.53L877.8 526.20M879.8 526.20L880.8 524.73L881.8 526.20M884.6 526.20L885.6 524.85L886.6 526.20M888.7 526.20L889.7 524.63L890.7 526.20M892.9 526.20L893.9 525.51L894.9 526.20M896.6 526.20L897.6 524.44L898.6 526.20M901.1 526.20L902.1 523.93L903.1 526.20M904.6 526.20L905.6 524.25L906.6 526.20M908.5 526.20L909.5 525.47L910.5 526.20M912.1 526.20L913.1 525.40L914.1 526.20M916.3 526.20L917.3 523.86L918.3 526.20M919.2 526.20L920.2 524.29L921.2 526.20M924.0 526.20L925.0 525.20L926.0 526.20M928.8 526.20L929.8 523.68L930.8 526.20M932.4 526.20L933.4 525.58L934.4 526.20M935.5 526.20L936.5 525.55L937.5 526.20M938.4 526.20L939.4 523.73L940.4 526.20M941.1 526.20L942.1 524.57L943.1 526.20M945.4 526.20L946.4 525.53L947.4 526.20M950.1 526.20L951.1 524.54L952.1 526.20M953.8 526.20L954.8 523.86L955.8 526.20M958.7 526.20L959.7 524.57L960.7 526.20M963.3 526.20L964.3 525.59L965.3 526.20M967.6 526.20L968.6 525.54L969.6 526.20M971.4 526.20L972.4 525.59L973.4 526.20M975.3 526.20L976.3 525.22L977.3 526.20M978.3 526.20L979.3 524.33L980.3 526.20M982.4 526.20L983.4 524.81L984.4 526.20M986.0 526.20L987.0 524.36L988.0 526.20M990.5 526.20L991.5 524.96L992.5 526.20M993.2 526.20L994.2 523.70L995.2 526.20M997.8 526.20L998.8 525.38L999.8 526.20" stroke="#7a7a7a" stroke-width="0.8" fill="none" stroke-linejoin="round"/><path d="M61.7 526.20V520.86M65.9 526.20V524.01M103.2 526.20V523.08M107.3 526.20V521.59M130.0 526.20V522.96M137.6 526.20V521.89M269.7 526.20V523.91M306.0 526.20V523.63M312.7 526.20V523.94M326.3 526.20V524.04M341.3 526.20V520.54M365.3 526.20V524.19M380.0 526.20V521.08M391.1 526.20V524.17M450.5 526.20V523.29M452.9 526.20V521.93M457.0 526.20V523.21M479.7 526.20V521.23M519.6 526.20V522.65M537.0 526.20V524.10M549.7 526.20V524.18M610.4 526.20V523.11M698.3 526.20V523.06M749.1 526.20V523.53M771.1 526.20V521.81M814.0 526.20V522.76M871.7 526.20V520.45M898.0 526.20V524.17M918.4 526.20V524.16M925.7 526.20V522.15M936.5 526.20V521.66M941.2 526.20V523.99M948.0 526.20V521.49M952.3 526.20V521.51M959.7 526.20V521.84" stroke="#8a8a8a" stroke-width="0.9" fill="none"/>
<line x1="43.70" y1="585.30" x2="43.70" y2="817.20" stroke="#bdbdbd" stroke-width="1.8"/>
<line x1="35.70" y1="817.20" x2="43.70" y2="817.20" stroke="#9a9a9a" stroke-width="1"/>
<line x1="39.50" y1="794.01" x2="43.70" y2="794.01" stroke="#9a9a9a" stroke-width="1"/>
<line x1="39.50" y1="770.82" x2="43.70" y2="770.82" stroke="#9a9a9a" stroke-width="1"/>
<line x1="39.50" y1="747.63" x2="43.70" y2="747.63" stroke="#9a9a9a" stroke-width="1"/>
<line x1="39.50" y1="724.44" x2="43.70" y2="724.44" stroke="#9a9a9a" stroke-width="1"/>
<line x1="35.70" y1="701.25" x2="43.70" y2="701.25" stroke="#9a9a9a" stroke-width="1"/>
<line x1="39.50" y1="678.06" x2="43.70" y2="678.06" stroke="#9a9a9a" stroke-width="1"/>
<line x1="39.50" y1="654.87" x2="43.70" y2="654.87" stroke="#9a9a9a" stroke-width="1"/>
<line x1="39.50" y1="631.68" x2="43.70" y2="631.68" stroke="#9a9a9a" stroke-width="1"/>
<line x1="39.50" y1="608.49" x2="43.70" y2="608.49" stroke="#9a9a9a" stroke-width="1"/>
<line x1="35.70" y1="585.30" x2="43.70" y2="585.30" stroke="#9a9a9a" stroke-width="1"/>
<line x1="45.69" y1="817.20" x2="45.69" y2="821.70" stroke="#9a9a9a" stroke-width="1"/>
<line x1="53.56" y1="817.20" x2="53.56" y2="821.70" stroke="#9a9a9a" stroke-width="1"/>
<line x1="61.43" y1="817.20" x2="61.43" y2="821.70" stroke="#9a9a9a" stroke-width="1"/>
<line x1="69.30" y1="817.20" x2="69.30" y2="825.70" stroke="#9a9a9a" stroke-width="1"/>
<line x1="77.17" y1="817.20" x2="77.17" y2="821.70" stroke="#9a9a9a" stroke-width="1"/>
<line x1="85.04" y1="817.20" x2="85.04" y2="821.70" stroke="#9a9a9a" stroke-width="1"/>
<line x1="92.91" y1="817.20" x2="92.91" y2="821.70" stroke="#9a9a9a" stroke-width="1"/>
<line x1="100.78" y1="817.20" x2="100.78" y2="821.70" stroke="#9a9a9a" stroke-width="1"/>
<line x1="108.65" y1="817.20" x2="108.65" y2="825.70" stroke="#9a9a9a" stroke-width="1"/>
<line x1="116.52" y1="817.20" x2="116.52" y2="821.70" stroke="#9a9a9a" stroke-width="1"/>
<line x1="124.39" y1="817.20" x2="124.39" y2="821.70" stroke="#9a9a9a" stroke-width="1"/>
<line x1="132.26" y1="817.20" x2="132.26" y2="821.70" stroke="#9a9a9a" stroke-width="1"/>
<line x1="140.13" y1="817.20" x2="140.13" y2="821.70" stroke="#9a9a9a" stroke-width="1"/>
<line x1="148.00" y1="817.20" x2="148.00" y2="825.70" stroke="#9a9a9a" stroke-width="1"/>
<line x1="155.87" y1="817.20" x2="155.87" y2="821.70" stroke="#9a9a9a" stroke-width="1"/>
<line x1="163.74" y1="817.20" x2="163.74" y2="821.70" stroke="#9a9a9a" stroke-width="1"/>
<line x1="171.61" y1="817.20" x2="171.61" y2="821.70" stroke="#9a9a9a" stroke-width="1"/>
<line x1="179.48" y1="817.20" x2="179.48" y2="821.70" stroke="#9a9a9a" stroke-width="1"/>
<line x1="187.35" y1="817.20" x2="187.35" y2="825.70" stroke="#9a9a9a" stroke-width="1"/>
<line x1="195.22" y1="817.20" x2="195.22" y2="821.70" stroke="#9a9a9a" stroke-width="1"/>
<line x1="203.09" y1="817.20" x2="203.09" y2="821.70" stroke="#9a9a9a" stroke-width="1"/>
<line x1="210.96" y1="817.20" x2="210.96" y2="821.70" stroke="#9a9a9a" stroke-width="1"/>
<line x1="218.83" y1="817.20" x2="218.83" y2="821.70" stroke="#9a9a9a" stroke-width="1"/>
<line x1="226.70" y1="817.20" x2="226.70" y2="825.70" stroke="#9a9a9a" stroke-width="1"/>
<line x1="234.57" y1="817.20" x2="234.57" y2="821.70" stroke="#9a9a9a" stroke-width="1"/>
<line x1="242.44" y1="817.20" x2="242.44" y2="821.70" stroke="#9a9a9a" stroke-width="1"/>
<line x1="250.31" y1="817.20" x2="250.31" y2="821.70" stroke="#9a9a9a" stroke-width="1"/>
<line x1="258.18" y1="817.20" x2="258.18" y2="821.70" stroke="#9a9a9a" stroke-width="1"/>
<line x1="266.05" y1="817.20" x2="266.05" y2="825.70" stroke="#9a9a9a" stroke-width="1"/>
<line x1="273.92" y1="817.20" x2="273.92" y2="821.70" stroke="#9a9a9a" stroke-width="1"/>
<line x1="281.79" y1="817.20" x2="281.79" y2="821.70" stroke="#9a9a9a" stroke-width="1"/>
<line x1="289.66" y1="817.20" x2="289.66" y2="821.70" stroke="#9a9a9a" stroke-width="1"/>
<line x1="297.53" y1="817.20" x2="297.53" y2="821.70" stroke="#9a9a9a" stroke-width="1"/>
<line x1="305.40" y1="817.20" x2="305.40" y2="825.70" stroke="#9a9a9a" stroke-width="1"/>
<line x1="313.27" y1="817.20" x2="313.27" y2="821.70" stroke="#9a9a9a" stroke-width="1"/>
<line x1="321.14" y1="817.20" x2="321.14" y2="821.70" stroke="#9a9a9a" stroke-width="1"/>
<line x1="329.01" y1="817.20" x2="329.01" y2="821.70" stroke="#9a9a9a" stroke-width="1"/>
<line x1="336.88" y1="817.20" x2="336.88" y2="821.70" stroke="#9a9a9a" stroke-width="1"/>
<line x1="344.75" y1="817.20" x2="344.75" y2="825.70" stroke="#9a9a9a" stroke-width="1"/>
<line x1="352.62" y1="817.20" x2="352.62" y2="821.70" stroke="#9a9a9a" stroke-width="1"/>
<line x1="360.49" y1="817.20" x2="360.49" y2="821.70" stroke="#9a9a9a" stroke-width="1"/>
<line x1="368.36" y1="817.20" x2="368.36" y2="821.70" stroke="#9a9a9a" stroke-width="1"/>
<line x1="376.23" y1="817.20" x2="376.23" y2="821.70" stroke="#9a9a9a" stroke-width="1"/>
<line x1="384.10" y1="817.20" x2="384.10" y2="825.70" stroke="#9a9a9a" stroke-width="1"/>
<line x1="391.97" y1="817.20" x2="391.97" y2="821.70" stroke="#9a9a9a" stroke-width="1"/>
<line x1="399.84" y1="817.20" x2="399.84" y2="821.70" stroke="#9a9a9a" stroke-width="1"/>
<line x1="407.71" y1="817.20" x2="407.71" y2="821.70" stroke="#9a9a9a" stroke-width="1"/>
<line x1="415.58" y1="817.20" x2="415.58" y2="821.70" stroke="#9a9a9a" stroke-width="1"/>
<line x1="423.45" y1="817.20" x2="423.45" y2="825.70" stroke="#9a9a9a" stroke-width="1"/>
<line x1="431.32" y1="817.20" x2="431.32" y2="821.70" stroke="#9a9a9a" stroke-width="1"/>
<line x1="439.19" y1="817.20" x2="439.19" y2="821.70" stroke="#9a9a9a" stroke-width="1"/>
<line x1="447.06" y1="817.20" x2="447.06" y2="821.70" stroke="#9a9a9a" stroke-width="1"/>
<line x1="454.93" y1="817.20" x2="454.93" y2="821.70" stroke="#9a9a9a" stroke-width="1"/>
<line x1="462.80" y1="817.20" x2="462.80" y2="825.70" stroke="#9a9a9a" stroke-width="1"/>
<line x1="470.67" y1="817.20" x2="470.67" y2="821.70" stroke="#9a9a9a" stroke-width="1"/>
<line x1="478.54" y1="817.20" x2="478.54" y2="821.70" stroke="#9a9a9a" stroke-width="1"/>
<line x1="486.41" y1="817.20" x2="486.41" y2="821.70" stroke="#9a9a9a" stroke-width="1"/>
<line x1="494.28" y1="817.20" x2="494.28" y2="821.70" stroke="#9a9a9a" stroke-width="1"/>
<line x1="502.15" y1="817.20" x2="502.15" y2="825.70" stroke="#9a9a9a" stroke-width="1"/>
<line x1="510.02" y1="817.20" x2="510.02" y2="821.70" stroke="#9a9a9a" stroke-width="1"/>
<line x1="517.89" y1="817.20" x2="517.89" y2="821.70" stroke="#9a9a9a" stroke-width="1"/>
<line x1="525.76" y1="817.20" x2="525.76" y2="821.70" stroke="#9a9a9a" stroke-width="1"/>
<line x1="533.63" y1="817.20" x2="533.63" y2="821.70" stroke="#9a9a9a" stroke-width="1"/>
<line x1="541.50" y1="817.20" x2="541.50" y2="825.70" stroke="#9a9a9a" stroke-width="1"/>
<line x1="549.37" y1="817.20" x2="549.37" y2="821.70" stroke="#9a9a9a" stroke-width="1"/>
<line x1="557.24" y1="817.20" x2="557.24" y2="821.70" stroke="#9a9a9a" stroke-width="1"/>
<line x1="565.11" y1="817.20" x2="565.11" y2="821.70" stroke="#9a9a9a" stroke-width="1"/>
<line x1="572.98" y1="817.20" x2="572.98" y2="821.70" stroke="#9a9a9a" stroke-width="1"/>
<line x1="580.85" y1="817.20" x2="580.85" y2="825.70" stroke="#9a9a9a" stroke-width="1"/>
<line x1="588.72" y1="817.20" x2="588.72" y2="821.70" stroke="#9a9a9a" stroke-width="1"/>
<line x1="596.59" y1="817.20" x2="596.59" y2="821.70" stroke="#9a9a9a" stroke-width="1"/>
<line x1="604.46" y1="817.20" x2="604.46" y2="821.70" stroke="#9a9a9a" stroke-width="1"/>
<line x1="612.33" y1="817.20" x2="612.33" y2="821.70" stroke="#9a9a9a" stroke-width="1"/>
<line x1="620.20" y1="817.20" x2="620.20" y2="825.70" stroke="#9a9a9a" stroke-width="1"/>
<line x1="628.07" y1="817.20" x2="628.07" y2="821.70" stroke="#9a9a9a" stroke-width="1"/>
<line x1="635.94" y1="817.20" x2="635.94" y2="821.70" stroke="#9a9a9a" stroke-width="1"/>
<line x1="643.81" y1="817.20" x2="643.81" y2="821.70" stroke="#9a9a9a" stroke-width="1"/>
<line x1="651.68" y1="817.20" x2="651.68" y2="821.70" stroke="#9a9a9a" stroke-width="1"/>
<line x1="659.55" y1="817.20" x2="659.55" y2="825.70" stroke="#9a9a9a" stroke-width="1"/>
<line x1="667.42" y1="817.20" x2="667.42" y2="821.70" stroke="#9a9a9a" stroke-width="1"/>
<line x1="675.29" y1="817.20" x2="675.29" y2="821.70" stroke="#9a9a9a" stroke-width="1"/>
<line x1="683.16" y1="817.20" x2="683.16" y2="821.70" stroke="#9a9a9a" stroke-width="1"/>
<line x1="691.03" y1="817.20" x2="691.03" y2="821.70" stroke="#9a9a9a" stroke-width="1"/>
<line x1="698.90" y1="817.20" x2="698.90" y2="825.70" stroke="#9a9a9a" stroke-width="1"/>
<line x1="706.77" y1="817.20" x2="706.77" y2="821.70" stroke="#9a9a9a" stroke-width="1"/>
<line x1="714.64" y1="817.20" x2="714.64" y2="821.70" stroke="#9a9a9a" stroke-width="1"/>
<line x1="722.51" y1="817.20" x2="722.51" y2="821.70" stroke="#9a9a9a" stroke-width="1"/>
<line x1="730.38" y1="817.20" x2="730.38" y2="821.70" stroke="#9a9a9a" stroke-width="1"/>
<line x1="738.25" y1="817.20" x2="738.25" y2="825.70" stroke="#9a9a9a" stroke-width="1"/>
<line x1="746.12" y1="817.20" x2="746.12" y2="821.70" stroke="#9a9a9a" stroke-width="1"/>
<line x1="753.99" y1="817.20" x2="753.99" y2="821.70" stroke="#9a9a9a" stroke-width="1"/>
<line x1="761.86" y1="817.20" x2="761.86" y2="821.70" stroke="#9a9a9a" stroke-width="1"/>
<line x1="769.73" y1="817.20" x2="769.73" y2="821.70" stroke="#9a9a9a" stroke-width="1"/>
<line x1="777.60" y1="817.20" x2="777.60" y2="825.70" stroke="#9a9a9a" stroke-width="1"/>
<line x1="785.47" y1="817.20" x2="785.47" y2="821.70" stroke="#9a9a9a" stroke-width="1"/>
<line x1="793.34" y1="817.20" x2="793.34" y2="821.70" stroke="#9a9a9a" stroke-width="1"/>
<line x1="801.21" y1="817.20" x2="801.21" y2="821.70" stroke="#9a9a9a" stroke-width="1"/>
<line x1="809.08" y1="817.20" x2="809.08" y2="821.70" stroke="#9a9a9a" stroke-width="1"/>
<line x1="816.95" y1="817.20" x2="816.95" y2="825.70" stroke="#9a9a9a" stroke-width="1"/>
<line x1="824.82" y1="817.20" x2="824.82" y2="821.70" stroke="#9a9a9a" stroke-width="1"/>
<line x1="832.69" y1="817.20" x2="832.69" y2="821.70" stroke="#9a9a9a" stroke-width="1"/>
<line x1="840.56" y1="817.20" x2="840.56" y2="821.70" stroke="#9a9a9a" stroke-width="1"/>
<line x1="848.43" y1="817.20" x2="848.43" y2="821.70" stroke="#9a9a9a" stroke-width="1"/>
<line x1="856.30" y1="817.20" x2="856.30" y2="825.70" stroke="#9a9a9a" stroke-width="1"/>
<line x1="864.17" y1="817.20" x2="864.17" y2="821.70" stroke="#9a9a9a" stroke-width="1"/>
<line x1="872.04" y1="817.20" x2="872.04" y2="821.70" stroke="#9a9a9a" stroke-width="1"/>
<line x1="879.91" y1="817.20" x2="879.91" y2="821.70" stroke="#9a9a9a" stroke-width="1"/>
<line x1="887.78" y1="817.20" x2="887.78" y2="821.70" stroke="#9a9a9a" stroke-width="1"/>
<line x1="895.65" y1="817.20" x2="895.65" y2="825.70" stroke="#9a9a9a" stroke-width="1"/>
<line x1="903.52" y1="817.20" x2="903.52" y2="821.70" stroke="#9a9a9a" stroke-width="1"/>
<line x1="911.39" y1="817.20" x2="911.39" y2="821.70" stroke="#9a9a9a" stroke-width="1"/>
<line x1="919.26" y1="817.20" x2="919.26" y2="821.70" stroke="#9a9a9a" stroke-width="1"/>
<line x1="927.13" y1="817.20" x2="927.13" y2="821.70" stroke="#9a9a9a" stroke-width="1"/>
<line x1="935.00" y1="817.20" x2="935.00" y2="825.70" stroke="#9a9a9a" stroke-width="1"/>
<line x1="942.87" y1="817.20" x2="942.87" y2="821.70" stroke="#9a9a9a" stroke-width="1"/>
<line x1="950.74" y1="817.20" x2="950.74" y2="821.70" stroke="#9a9a9a" stroke-width="1"/>
<line x1="958.61" y1="817.20" x2="958.61" y2="821.70" stroke="#9a9a9a" stroke-width="1"/>
<line x1="966.48" y1="817.20" x2="966.48" y2="821.70" stroke="#9a9a9a" stroke-width="1"/>
<line x1="974.35" y1="817.20" x2="974.35" y2="825.70" stroke="#9a9a9a" stroke-width="1"/>
<line x1="982.22" y1="817.20" x2="982.22" y2="821.70" stroke="#9a9a9a" stroke-width="1"/>
<line x1="990.09" y1="817.20" x2="990.09" y2="821.70" stroke="#9a9a9a" stroke-width="1"/>
<line x1="997.96" y1="817.20" x2="997.96" y2="821.70" stroke="#9a9a9a" stroke-width="1"/>
<line x1="43.70" y1="817.20" x2="1001.40" y2="817.20" stroke="#9a9a9a" stroke-width="1.3"/>
<path d="M44.2 817.20L45.2 815.81L46.2 817.20M47.5 817.20L48.5 816.52L49.5 817.20M51.0 817.20L52.0 816.12L53.0 817.20M55.8 817.20L56.8 815.87L57.8 817.20M58.4 817.20L59.4 816.68L60.4 817.20M62.4 817.20L63.4 815.85L64.4 817.20M65.1 817.20L66.1 815.81L67.1 817.20M69.8 817.20L70.8 816.32L71.8 817.20M74.4 817.20L75.4 815.87L76.4 817.20M79.2 817.20L80.2 816.61L81.2 817.20M83.2 817.20L84.2 815.89L85.2 817.20M87.6 817.20L88.6 815.56L89.6 817.20M91.6 817.20L92.6 816.14L93.6 817.20M94.7 817.20L95.7 816.69L96.7 817.20M99.2 817.20L100.2 816.48L101.2 817.20M103.7 817.20L104.7 815.95L105.7 817.20M107.7 817.20L108.7 815.65L109.7 817.20M111.6 817.20L112.6 816.46L113.6 817.20M114.6 817.20L115.6 816.73L116.6 817.20M118.9 817.20L119.9 816.60L120.9 817.20M122.5 817.20L123.5 816.41L124.5 817.20M125.2 817.20L126.2 815.39L127.2 817.20M128.1 817.20L129.1 816.22L130.1 817.20M131.0 817.20L132.0 816.28L133.0 817.20M134.9 817.20L135.9 816.78L136.9 817.20M139.8 817.20L140.8 815.73L141.8 817.20M143.8 817.20L144.8 816.68L145.8 817.20M147.4 817.20L148.4 815.53L149.4 817.20M152.0 817.20L153.0 815.48L154.0 817.20M154.7 817.20L155.7 816.72L156.7 817.20M157.5 817.20L158.5 816.78L159.5 817.20M162.2 817.20L163.2 816.49L164.2 817.20M167.0 817.20L168.0 816.77L169.0 817.20M170.5 817.20L171.5 816.76L172.5 817.20M173.7 817.20L174.7 816.33L175.7 817.20M178.6 817.20L179.6 816.15L180.6 817.20M182.3 817.20L183.3 816.74L184.3 817.20M187.3 817.20L188.3 816.71L189.3 817.20M190.5 817.20L191.5 816.61L192.5 817.20M195.3 817.20L196.3 815.80L197.3 817.20M199.8 817.20L200.8 816.08L201.8 817.20M204.7 817.20L205.7 816.78L206.7 817.20M209.1 817.20L210.1 815.54L211.1 817.20M212.5 817.20L213.5 816.29L214.5 817.20M215.3 817.20L216.3 816.63L217.3 817.20M218.2 817.20L219.2 816.46L220.2 817.20M221.4 817.20L222.4 816.75L223.4 817.20M224.0 817.20L225.0 816.06L226.0 817.20M226.7 817.20L227.7 815.58L228.7 817.20M231.5 817.20L232.5 815.73L233.5 817.20M234.5 817.20L235.5 816.50L236.5 817.20M239.3 817.20L240.3 815.79L241.3 817.20M243.0 817.20L244.0 816.62L245.0 817.20M246.7 817.20L247.7 816.23L248.7 817.20M249.9 817.20L250.9 816.78L251.9 817.20M253.8 817.20L254.8 816.75L255.8 817.20M257.0 817.20L258.0 816.54L259.0 817.20M260.3 817.20L261.3 815.79L262.3 817.20M263.3 817.20L264.3 816.44L265.3 817.20M268.1 817.20L269.1 816.76L270.1 817.20M270.8 817.20L271.8 815.66L272.8 817.20M273.9 817.20L274.9 816.46L275.9 817.20M277.1 817.20L278.1 816.72L279.1 817.20M282.1 817.20L283.1 815.39L284.1 817.20M284.9 817.20L285.9 816.66L286.9 817.20M287.7 817.20L288.7 816.04L289.7 817.20M292.6 817.20L293.6 816.78L294.6 817.20M296.0 817.20L297.0 816.75L298.0 817.20M299.1 817.20L300.1 816.51L301.1 817.20M302.2 817.20L303.2 816.32L304.2 817.20M305.2 817.20L306.2 815.95L307.2 817.20M308.3 817.20L309.3 816.77L310.3 817.20M312.4 817.20L313.4 816.44L314.4 817.20M315.5 817.20L316.5 816.25L317.5 817.20M320.0 817.20L321.0 816.30L322.0 817.20M322.8 817.20L323.8 816.03L324.8 817.20M327.1 817.20L328.1 816.78L329.1 817.20M330.5 817.20L331.5 815.79L332.5 817.20M334.3 817.20L335.3 816.78L336.3 817.20M338.0 817.20L339.0 815.72L340.0 817.20M341.1 817.20L342.1 815.81L343.1 817.20M344.1 817.20L345.1 816.59L346.1 817.20M346.7 817.20L347.7 816.40L348.7 817.20M350.5 817.20L351.5 816.76L352.5 817.20M355.1 817.20L356.1 815.73L357.1 817.20M359.4 817.20L360.4 816.58L361.4 817.20M362.1 817.20L363.1 815.71L364.1 817.20M365.9 817.20L366.9 816.41L367.9 817.20M369.8 817.20L370.8 816.78L371.8 817.20M372.9 817.20L373.9 816.73L374.9 817.20M376.1 817.20L377.1 815.85L378.1 817.20M379.0 817.20L380.0 816.10L381.0 817.20M381.6 817.20L382.6 816.28L383.6 817.20M385.5 817.20L386.5 816.09L387.5 817.20M390.2 817.20L391.2 816.06L392.2 817.20M393.1 817.20L394.1 816.44L395.1 817.20M396.3 817.20L397.3 816.76L398.3 817.20M399.3 817.20L400.3 816.29L401.3 817.20M402.2 817.20L403.2 816.32L404.2 817.20M405.2 817.20L406.2 815.82L407.2 817.20M408.7 817.20L409.7 816.53L410.7 817.20M412.6 817.20L413.6 816.56L414.6 817.20M417.1 817.20L418.1 816.62L419.1 817.20M420.5 817.20L421.5 816.51L422.5 817.20M425.0 817.20L426.0 815.61L427.0 817.20M429.6 817.20L430.6 816.78L431.6 817.20M434.5 817.20L435.5 815.56L436.5 817.20M438.1 817.20L439.1 816.22L440.1 817.20M442.0 817.20L443.0 816.77L444.0 817.20M445.8 817.20L446.8 816.78L447.8 817.20M450.8 817.20L451.8 815.94L452.8 817.20M454.9 817.20L455.9 815.86L456.9 817.20M459.6 817.20L460.6 816.78L461.6 817.20M462.8 817.20L463.8 816.14L464.8 817.20M466.7 817.20L467.7 815.58L468.7 817.20M469.9 817.20L470.9 816.40L471.9 817.20M474.8 817.20L475.8 816.66L476.8 817.20M479.0 817.20L480.0 816.76L481.0 817.20M483.9 817.20L484.9 816.41L485.9 817.20M487.6 817.20L488.6 816.38L489.6 817.20M490.5 817.20L491.5 816.76L492.5 817.20M494.1 817.20L495.1 816.66L496.1 817.20M496.9 817.20L497.9 816.36L498.9 817.20M500.9 817.20L501.9 816.32L502.9 817.20M504.0 817.20L505.0 816.07L506.0 817.20M507.9 817.20L508.9 816.25L509.9 817.20M511.3 817.20L512.3 816.70L513.3 817.20M515.1 817.20L516.1 816.57L517.1 817.20M517.7 817.20L518.7 816.61L519.7 817.20M520.9 817.20L521.9 816.35L522.9 817.20M524.2 817.20L525.2 815.41L526.2 817.20M528.6 817.20L529.6 816.74L530.6 817.20M533.3 817.20L534.3 816.51L535.3 817.20M536.9 817.20L537.9 816.51L538.9 817.20M539.7 817.20L540.7 816.71L541.7 817.20M544.1 817.20L545.1 816.75L546.1 817.20M547.6 817.20L548.6 816.14L549.6 817.20M552.2 817.20L553.2 815.84L554.2 817.20M556.6 817.20L557.6 816.01L558.6 817.20M560.3 817.20L561.3 815.92L562.3 817.20M565.1 817.20L566.1 816.76L567.1 817.20M567.7 817.20L568.7 815.96L569.7 817.20M571.5 817.20L572.5 815.48L573.5 817.20M575.1 817.20L576.1 815.92L577.1 817.20M579.2 817.20L580.2 816.58L581.2 817.20M582.9 817.20L583.9 816.05L584.9 817.20M586.4 817.20L587.4 816.35L588.4 817.20M589.8 817.20L590.8 815.91L591.8 817.20M593.6 817.20L594.6 816.50L595.6 817.20M596.9 817.20L597.9 816.75L598.9 817.20M600.9 817.20L601.9 816.77L602.9 817.20M604.3 817.20L605.3 815.78L606.3 817.20M609.2 817.20L610.2 816.72L611.2 817.20M614.0 817.20L615.0 816.78L616.0 817.20M617.9 817.20L618.9 816.43L619.9 817.20M622.4 817.20L623.4 816.37L624.4 817.20M626.2 817.20L627.2 816.41L628.2 817.20M629.8 817.20L630.8 816.60L631.8 817.20M633.2 817.20L634.2 815.52L635.2 817.20M637.1 817.20L638.1 816.77L639.1 817.20M640.6 817.20L641.6 816.34L642.6 817.20M645.3 817.20L646.3 815.48L647.3 817.20M649.0 817.20L650.0 816.23L651.0 817.20M652.4 817.20L653.4 816.39L654.4 817.20M655.4 817.20L656.4 816.64L657.4 817.20M660.0 817.20L661.0 816.41L662.0 817.20M664.7 817.20L665.7 816.11L666.7 817.20M669.7 817.20L670.7 815.68L671.7 817.20M672.7 817.20L673.7 816.66L674.7 817.20M676.5 817.20L677.5 816.73L678.5 817.20M680.6 817.20L681.6 816.27L682.6 817.20M685.6 817.20L686.6 816.21L687.6 817.20M689.2 817.20L690.2 815.91L691.2 817.20M693.5 817.20L694.5 816.78L695.5 817.20M698.1 817.20L699.1 816.30L700.1 817.20M701.1 817.20L702.1 816.43L703.1 817.20M704.4 817.20L705.4 816.19L706.4 817.20M709.4 817.20L710.4 816.32L711.4 817.20M712.3 817.20L713.3 816.75L714.3 817.20M715.1 817.20L716.1 816.77L717.1 817.20M719.0 817.20L720.0 815.83L721.0 817.20M723.5 817.20L724.5 816.77L725.5 817.20M727.8 817.20L728.8 816.60L729.8 817.20M731.1 817.20L732.1 816.77L733.1 817.20M735.1 817.20L736.1 816.61L737.1 817.20M738.6 817.20L739.6 816.78L740.6 817.20M742.6 817.20L743.6 815.49L744.6 817.20M746.7 817.20L747.7 816.69L748.7 817.20M751.5 817.20L752.5 815.76L753.5 817.20M756.3 817.20L757.3 815.85L758.3 817.20M760.3 817.20L761.3 815.49L762.3 817.20M765.2 817.20L766.2 816.70L767.2 817.20M769.5 817.20L770.5 816.71L771.5 817.20M774.2 817.20L775.2 816.45L776.2 817.20M777.4 817.20L778.4 816.74L779.4 817.20M780.5 817.20L781.5 815.46L782.5 817.20M784.4 817.20L785.4 816.76L786.4 817.20M787.9 817.20L788.9 816.55L789.9 817.20M790.8 817.20L791.8 815.83L792.8 817.20M794.0 817.20L795.0 816.73L796.0 817.20M797.2 817.20L798.2 816.78L799.2 817.20M800.6 817.20L801.6 816.75L802.6 817.20M803.4 817.20L804.4 816.68L805.4 817.20M806.3 817.20L807.3 816.50L808.3 817.20M810.9 817.20L811.9 816.74L812.9 817.20M815.2 817.20L816.2 816.58L817.2 817.20M818.3 817.20L819.3 815.51L820.3 817.20M821.4 817.20L822.4 816.49L823.4 817.20M825.7 817.20L826.7 816.68L827.7 817.20M829.7 817.20L830.7 816.59L831.7 817.20M833.8 817.20L834.8 816.72L835.8 817.20M836.7 817.20L837.7 816.41L838.7 817.20M840.0 817.20L841.0 815.95L842.0 817.20M844.1 817.20L845.1 816.33L846.1 817.20M847.7 817.20L848.7 816.77L849.7 817.20M852.3 817.20L853.3 816.64L854.3 817.20M855.2 817.20L856.2 816.34L857.2 817.20M859.0 817.20L860.0 816.66L861.0 817.20M862.3 817.20L863.3 816.71L864.3 817.20M866.6 817.20L867.6 816.67L868.6 817.20M871.4 817.20L872.4 815.94L873.4 817.20M876.1 817.20L877.1 816.76L878.1 817.20M878.8 817.20L879.8 816.13L880.8 817.20M882.2 817.20L883.2 816.54L884.2 817.20M886.5 817.20L887.5 816.69L888.5 817.20M889.9 817.20L890.9 816.23L891.9 817.20M892.8 817.20L893.8 815.61L894.8 817.20M897.1 817.20L898.1 816.78L899.1 817.20M900.1 817.20L901.1 816.73L902.1 817.20M903.6 817.20L904.6 816.78L905.6 817.20M907.7 817.20L908.7 816.73L909.7 817.20M911.7 817.20L912.7 816.06L913.7 817.20M915.4 817.20L916.4 816.12L917.4 817.20M918.0 817.20L919.0 815.81L920.0 817.20M921.2 817.20L922.2 816.78L923.2 817.20M925.3 817.20L926.3 816.78L927.3 817.20M928.2 817.20L929.2 815.90L930.2 817.20M933.0 817.20L934.0 815.99L935.0 817.20M937.2 817.20L938.2 816.56L939.2 817.20M941.8 817.20L942.8 816.67L943.8 817.20M946.7 817.20L947.7 816.53L948.7 817.20M951.0 817.20L952.0 816.02L953.0 817.20M955.1 817.20L956.1 816.49L957.1 817.20M959.3 817.20L960.3 816.52L961.3 817.20M964.2 817.20L965.2 816.76L966.2 817.20M966.9 817.20L967.9 816.09L968.9 817.20M970.1 817.20L971.1 816.36L972.1 817.20M974.2 817.20L975.2 816.37L976.2 817.20M977.0 817.20L978.0 816.60L979.0 817.20M980.1 817.20L981.1 816.64L982.1 817.20M984.3 817.20L985.3 816.15L986.3 817.20M987.5 817.20L988.5 816.41L989.5 817.20M992.4 817.20L993.4 816.61L994.4 817.20M997.1 817.20L998.1 816.75L999.1 817.20" stroke="#7a7a7a" stroke-width="0.8" fill="none" stroke-linejoin="round"/><path d="M298.7 817.20V813.48M726.1 817.20V814.37" stroke="#8a8a8a" stroke-width="0.9" fill="none"/>
<path d="M152.20 258.30L152.85 118.00L153.00 26.40L153.15 118.00L153.80 258.30" stroke="#9c9c9c" stroke-width="0.90" fill="none"/>
<path d="M397.5 258.3 L399 246 L401 250 L402.5 238 L404 232 L405.5 244 L407 236 L408.5 249 L410 243 L411.5 252 L413 258.3 Z" fill="#b0b0b0"/>
<path d="M157.00 258.30V195.70M161.40 258.30V246.20M239.30 258.30V205.20M243.70 258.30V243.10M247.10 258.30V254.20M243.80 258.30V243.40M326.10 258.30V252.60M340.60 258.30V248.50M348.50 258.30V248.50M392.80 258.30V249.50M396.50 258.30V49.20M398.50 258.30V194.70M400.60 258.30V89.10M403.60 258.30V47.90M404.40 258.30V60.00M407.40 258.30V176.00M408.20 258.30V159.90M402.80 258.30V165.00M405.00 258.30V170.00M410.70 258.30V217.20M412.50 258.30V190.00M414.40 258.30V245.00M416.60 258.30V247.40M420.30 258.30V253.00M451.00 258.30V234.70M459.00 258.30V250.50M506.70 258.30V222.90M538.70 258.30V252.00M547.20 258.30V243.20M554.70 258.30V250.50" stroke="#8a8a8a" stroke-width="1.00" fill="none"/>
<line x1="239.30" y1="205.20" x2="251.00" y2="192.90" stroke="#555" stroke-width="0.9"/>
<line x1="408.20" y1="159.90" x2="421.00" y2="148.00" stroke="#555" stroke-width="0.9"/>
<path d="M152.50 526.20L153.15 414.00L153.30 294.40L153.45 414.00L154.10 526.20" stroke="#9c9c9c" stroke-width="0.90" fill="none"/>
<path d="M157.10 526.20V461.30M161.30 526.20V514.70M215.80 526.20V519.00M220.00 526.20V523.40M239.20 526.20V460.40M243.40 526.20V507.20M247.20 526.20V522.50M270.50 526.20V510.50M271.30 526.20V516.60M274.70 526.20V520.40M325.70 526.20V512.80M330.10 526.20V522.30M396.40 526.20V445.20M398.50 526.20V486.60M400.70 526.20V437.50M403.90 526.20V430.40M407.80 526.20V475.60M410.40 526.20V500.90M412.60 526.20V499.60M414.70 526.20V518.40M416.50 526.20V521.60M440.00 526.20V520.00M444.00 526.20V518.70M448.00 526.20V521.00M452.00 526.20V522.00M475.50 526.20V514.70M562.10 526.20V490.10M565.90 526.20V516.50M625.30 526.20V518.70" stroke="#8a8a8a" stroke-width="1.00" fill="none"/>
<path d="M400.5 526 L401.5 480 L403 470 L404.5 472 L405.8 490 L406.2 526 Z" fill="#a0a0a0"/>
<line x1="407.80" y1="475.60" x2="418.80" y2="463.40" stroke="#555" stroke-width="0.9"/>
<path d="M237.50 817.20L238.15 770.00L238.30 585.30L238.45 770.00L239.10 817.20" stroke="#9c9c9c" stroke-width="0.90" fill="none"/>
<path d="M151.20 817.20L151.75 790.00L151.90 773.40L152.05 790.00L152.60 817.20" stroke="#8a8a8a" stroke-width="0.90" fill="none"/>
<path d="M156.00 817.20V805.20M242.50 817.20V753.80M246.70 817.20V805.20M300.00 817.20V812.90M301.50 817.20V802.00M305.70 817.20V813.20M325.10 817.20V752.30M329.00 817.20V799.50M411.20 817.20V801.50M560.70 817.20V811.30M593.30 817.20V809.80M647.50 817.20V788.10M651.50 817.20V807.00" stroke="#8a8a8a" stroke-width="1.00" fill="none"/>
<line x1="329.00" y1="799.50" x2="341.80" y2="787.20" stroke="#555" stroke-width="0.9"/>
<polyline points="610.70,221.07 611.20,221.07 611.70,221.07 612.20,221.07 612.70,221.06 613.20,221.06 613.70,221.06 614.20,221.05 614.70,221.05 615.20,221.05 615.70,221.04 616.20,221.04 616.70,221.04 617.20,221.03 617.70,221.03 618.20,221.03 618.70,221.02 619.20,221.02 619.70,221.01 620.20,221.01 620.70,221.00 621.20,221.00 621.70,220.99 622.20,220.99 622.70,220.98 623.20,220.97 623.70,220.97 624.20,220.96 624.70,220.95 625.20,220.95 625.70,220.94 626.20,220.93 626.70,220.92 627.20,220.91 627.70,220.90 628.20,220.89 628.70,220.88 629.20,220.86 629.70,220.85 630.20,220.84 630.70,220.82 631.20,220.81 631.70,220.79 632.20,220.77 632.70,220.75 633.20,220.73 633.70,220.71 634.20,220.68 634.70,220.65 635.20,220.62 635.70,220.59 636.20,220.55 636.70,220.52 637.20,220.47 637.70,220.42 638.20,220.37 638.70,220.31 639.20,220.25 639.70,220.17 640.20,220.09 640.70,219.99 641.20,219.88 641.70,219.75 642.20,219.61 642.70,219.43 643.20,219.20 643.70,218.89 644.20,218.46 644.70,217.79 645.20,216.72 645.70,214.99 646.20,212.24 646.70,207.96 647.20,201.63 647.70,192.71 648.20,180.89 648.70,166.19 649.20,149.11 649.70,130.77 650.20,112.96 650.70,98.29 651.20,90.13 651.70,91.08 652.20,100.81 652.70,116.35 653.20,134.45 653.70,152.64 654.20,169.31 654.70,183.45 655.20,194.67 655.70,203.03 656.20,208.90 656.70,212.82 657.20,215.33 657.70,216.89 658.20,217.86 658.70,218.46 659.20,218.86 659.70,219.13 660.20,219.34 660.70,219.51 661.20,219.64 661.70,219.75 662.20,219.85 662.70,219.93 663.20,220.00 663.70,220.07 664.20,220.12 664.70,220.16 665.20,220.20 665.70,220.23 666.20,220.26 666.70,220.28 667.20,220.30 667.70,220.31 668.20,220.32 668.70,220.32 669.20,220.32 669.70,220.31 670.20,220.30 670.70,220.29 671.20,220.27 671.70,220.24 672.20,220.21 672.70,220.17 673.20,220.13 673.70,220.07 674.20,220.00 674.70,219.91 675.20,219.80 675.70,219.65 676.20,219.44 676.70,219.11 677.20,218.58 677.70,217.73 678.20,216.35 678.70,214.21 679.20,210.99 679.70,206.42 680.20,200.27 680.70,192.53 681.20,183.40 681.70,173.44 682.20,163.53 682.70,155.02 683.20,149.69 683.70,149.16 684.20,153.63 684.70,161.65 685.20,171.40 685.70,181.43 686.20,190.78 686.70,198.82 687.20,205.29 687.70,210.16 688.20,213.62 688.70,215.95 689.20,217.45 689.70,218.39 690.20,218.96 690.70,219.32 691.20,219.54 691.70,219.70 692.20,219.81 692.70,219.89 693.20,219.96 693.70,220.01 694.20,220.05 694.70,220.09 695.20,220.11 695.70,220.13 696.20,220.14 696.70,220.15 697.20,220.15 697.70,220.14 698.20,220.13 698.70,220.12 699.20,220.10 699.70,220.07 700.20,220.04 700.70,220.00 701.20,219.96 701.70,219.91 702.20,219.84 702.70,219.77 703.20,219.69 703.70,219.60 704.20,219.49 704.70,219.37 705.20,219.23 705.70,219.06 706.20,218.85 706.70,218.60 707.20,218.27 707.70,217.82 708.20,217.15 708.70,216.10 709.20,214.40 709.70,211.67 710.20,207.33 710.70,200.72 711.20,191.11 711.70,177.91 712.20,160.82 712.70,140.13 713.20,116.80 713.70,92.64 714.20,70.40 714.70,54.00 715.20,47.83 715.70,54.00 716.20,70.40 716.70,92.63 717.20,116.79 717.70,140.11 718.20,160.80 718.70,177.89 719.20,191.09 719.70,200.70 720.20,207.30 720.70,211.63 721.20,214.37 721.70,216.06 722.20,217.11 722.70,217.78 723.20,218.23 723.70,218.55 724.20,218.80 724.70,219.00 725.20,219.16 725.70,219.31 726.20,219.42 726.70,219.53 727.20,219.62 727.70,219.69 728.20,219.76 728.70,219.81 729.20,219.86 729.70,219.90 730.20,219.93 730.70,219.95 731.20,219.97 731.70,219.98 732.20,219.99 732.70,219.99 733.20,219.99 733.70,219.98 734.20,219.96 734.70,219.93 735.20,219.90 735.70,219.86 736.20,219.81 736.70,219.75 737.20,219.68 737.70,219.59 738.20,219.49 738.70,219.36 739.20,219.19 739.70,218.96 740.20,218.64 740.70,218.14 741.20,217.35 741.70,216.06 742.20,213.98 742.70,210.74 743.20,205.88 743.70,198.96 744.20,189.67 744.70,177.97 745.20,164.17 745.70,149.11 746.20,134.13 746.70,121.27 747.20,113.22 747.70,112.42 748.20,119.18 748.70,131.31 749.20,146.05 749.70,161.22 750.20,175.35 750.70,187.52 751.20,197.29 751.70,204.66 752.20,209.90 752.70,213.43 753.20,215.70 753.70,217.12 754.20,218.00 754.70,218.54 755.20,218.89 755.70,219.13 756.20,219.30 756.70,219.44 757.20,219.55 757.70,219.64 758.20,219.71 758.70,219.77 759.20,219.82 759.70,219.86 760.20,219.89 760.70,219.92 761.20,219.93 761.70,219.94 762.20,219.94 762.70,219.94 763.20,219.93 763.70,219.92 764.20,219.89 764.70,219.87 765.20,219.83 765.70,219.79 766.20,219.73 766.70,219.67 767.20,219.60 767.70,219.52 768.20,219.42 768.70,219.31 769.20,219.18 769.70,219.02 770.20,218.84 770.70,218.62 771.20,218.34 771.70,217.98 772.20,217.46 772.70,216.69 773.20,215.47 773.70,213.50 774.20,210.31 774.70,205.30 775.20,197.73 775.70,186.84 776.20,172.05 776.70,153.15 777.20,130.57 777.70,105.52 778.20,80.07 778.70,57.38 779.20,41.84 779.70,37.88 780.20,46.89 780.70,65.87 781.20,90.12 781.70,115.73 782.20,139.99 782.70,161.19 783.20,178.47 783.70,191.65 784.20,201.13 784.70,207.58 785.20,211.78 785.70,214.42 786.20,216.04 786.70,217.06 787.20,217.71 787.70,218.15 788.20,218.48 788.70,218.73 789.20,218.94 789.70,219.11 790.20,219.26 790.70,219.38 791.20,219.49 791.70,219.58 792.20,219.66 792.70,219.73 793.20,219.79 793.70,219.84 794.20,219.88 794.70,219.92 795.20,219.95 795.70,219.97 796.20,219.98 796.70,219.99 797.20,220.00 797.70,219.99 798.20,219.98 798.70,219.97 799.20,219.94 799.70,219.91 800.20,219.87 800.70,219.82 801.20,219.76 801.70,219.69 802.20,219.60 802.70,219.48 803.20,219.34 803.70,219.15 804.20,218.87 804.70,218.45 805.20,217.78 805.70,216.69 806.20,214.92 806.70,212.14 807.20,207.94 807.70,201.89 808.20,193.67 808.70,183.17 809.20,170.62 809.70,156.70 810.20,142.55 810.70,129.95 811.20,121.31 811.70,119.11 812.20,124.12 812.70,134.68 813.20,148.16 813.70,162.40 814.20,175.89 814.70,187.68 815.20,197.28 815.70,204.61 816.20,209.88 816.70,213.47 817.20,215.80 817.70,217.27 818.20,218.17 818.70,218.74 819.20,219.10 819.70,219.34 820.20,219.53 820.70,219.66 821.20,219.78 821.70,219.87 822.20,219.95 822.70,220.02 823.20,220.08 823.70,220.12 824.20,220.17 824.70,220.20 825.20,220.23 825.70,220.25 826.20,220.27 826.70,220.28 827.20,220.29 827.70,220.30 828.20,220.30 828.70,220.29 829.20,220.29 829.70,220.27 830.20,220.25 830.70,220.23 831.20,220.20 831.70,220.17 832.20,220.12 832.70,220.07 833.20,220.01 833.70,219.94 834.20,219.85 834.70,219.74 835.20,219.61 835.70,219.44 836.20,219.19 836.70,218.83 837.20,218.25 837.70,217.32 838.20,215.81 838.70,213.42 839.20,209.77 839.70,204.46 840.20,197.16 840.70,187.72 841.20,176.28 841.70,163.39 842.20,150.03 842.70,137.74 843.20,128.68 843.70,125.27 844.20,128.68 844.70,137.75 845.20,150.05 845.70,163.41 846.20,176.30 846.70,187.75 847.20,197.19 847.70,204.50 848.20,209.81 848.70,213.46 849.20,215.86 849.70,217.38 850.20,218.31 850.70,218.90 851.20,219.27 851.70,219.52 852.20,219.70 852.70,219.84 853.20,219.95 853.70,220.05 854.20,220.13 854.70,220.20 855.20,220.26 855.70,220.31 856.20,220.35 856.70,220.39 857.20,220.43 857.70,220.45 858.20,220.48 858.70,220.50 859.20,220.52 859.70,220.53 860.20,220.54 860.70,220.55 861.20,220.55 861.70,220.56 862.20,220.56 862.70,220.55 863.20,220.54 863.70,220.53 864.20,220.52 864.70,220.50 865.20,220.47 865.70,220.44 866.20,220.41 866.70,220.36 867.20,220.31 867.70,220.24 868.20,220.14 868.70,220.00 869.20,219.79 869.70,219.46 870.20,218.91 870.70,218.03 871.20,216.64 871.70,214.53 872.20,211.51 872.70,207.39 873.20,202.14 873.70,195.86 874.20,188.89 874.70,181.81 875.20,175.50 875.70,171.18 876.20,170.08 876.70,172.59 877.20,177.88 877.70,184.62 878.20,191.75 878.70,198.50 879.20,204.40 879.70,209.21 880.20,212.88 880.70,215.52 881.20,217.32 881.70,218.48 882.20,219.22 882.70,219.67 883.20,219.96 883.70,220.14 884.20,220.26 884.70,220.35 885.20,220.43 885.70,220.48 886.20,220.53 886.70,220.57 887.20,220.61 887.70,220.64 888.20,220.66 888.70,220.69 889.20,220.71 889.70,220.72 890.20,220.74 890.70,220.75 891.20,220.76 891.70,220.76 892.20,220.77 892.70,220.77 893.20,220.77 893.70,220.77 894.20,220.77 894.70,220.76 895.20,220.76 895.70,220.75 896.20,220.73 896.70,220.72 897.20,220.70 897.70,220.68 898.20,220.65 898.70,220.62 899.20,220.58 899.70,220.52 900.20,220.46 900.70,220.36 901.20,220.22 901.70,219.99 902.20,219.62 902.70,219.02 903.20,218.08 903.70,216.63 904.20,214.53 904.70,211.64 905.20,207.90 905.70,203.38 906.20,198.27 906.70,192.98 907.20,188.12 907.70,184.53 908.20,183.18 908.70,184.53 909.20,188.12 909.70,192.99 910.20,198.28 910.70,203.39 911.20,207.92 911.70,211.67 912.20,214.56 912.70,216.66 913.20,218.11 913.70,219.06 914.20,219.66 914.70,220.03 915.20,220.27 915.70,220.41 916.20,220.51 916.70,220.59 917.20,220.64 917.70,220.69 918.20,220.73 918.70,220.76 919.20,220.79 919.70,220.81 920.20,220.83 920.70,220.85 921.20,220.87 921.70,220.88 922.20,220.89 922.70,220.91 923.20,220.91 923.70,220.92 924.20,220.93 924.70,220.94 925.20,220.94 925.70,220.94 926.20,220.95 926.70,220.95 927.20,220.95 927.70,220.95 928.20,220.95 928.70,220.94 929.20,220.94 929.70,220.93 930.20,220.92 930.70,220.91 931.20,220.90 931.70,220.89 932.20,220.86 932.70,220.84 933.20,220.79 933.70,220.73 934.20,220.63 934.70,220.46 935.20,220.19 935.70,219.77 936.20,219.13 936.70,218.20 937.20,216.94 937.70,215.34 938.20,213.42 938.70,211.29 939.20,209.12 939.70,207.19 940.20,205.87 940.70,205.54 941.20,206.30 941.70,207.92 942.20,209.99 942.70,212.17 943.20,214.23 943.70,216.04 944.20,217.51 944.70,218.63 945.20,219.44 945.70,219.99 946.20,220.35 946.70,220.57 947.20,220.71 947.70,220.80 948.20,220.86 948.70,220.90 949.20,220.92 949.70,220.95 950.20,220.97 950.70,220.98 951.20,220.99 951.70,221.01 952.20,221.02 952.70,221.02 953.20,221.03 953.70,221.04 954.20,221.04 954.70,221.05 955.20,221.05 955.70,221.06 956.20,221.06 956.70,221.07 957.20,221.07 957.70,221.07 958.20,221.07 958.70,221.07 959.20,221.07 959.70,221.07 960.20,221.07 960.70,221.07 961.20,221.07 961.70,221.07 962.20,221.07 962.70,221.06 963.20,221.06 963.70,221.05 964.20,221.04 964.70,221.03 965.20,221.02 965.70,220.99 966.20,220.96 966.70,220.89 967.20,220.79 967.70,220.63 968.20,220.39 968.70,220.04 969.20,219.55 969.70,218.92 970.20,218.15 970.70,217.29 971.20,216.40 971.70,215.58 972.20,214.97 972.70,214.75 973.20,214.98 973.70,215.58 974.20,216.41 974.70,217.30 975.20,218.16 975.70,218.93 976.20,219.56 976.70,220.05 977.20,220.40 977.70,220.65 978.20,220.81 978.70,220.91 979.20,220.98 979.70,221.01 980.20,221.04 980.70,221.06 981.20,221.07 981.70,221.08 982.20,221.09 982.70,221.09 983.20,221.10 983.70,221.10 984.20,221.11 984.70,221.11 985.20,221.12 985.70,221.12 986.20,221.12 986.70,221.12 987.20,221.13 987.70,221.13 988.20,221.13 988.70,221.13 989.20,221.13 989.70,221.13 990.20,221.13 990.70,221.13 991.20,221.13 991.70,221.13 992.20,221.13 992.70,221.13 993.20,221.13 993.70,221.13 994.20,221.13 994.70,221.13 995.20,221.13 995.70,221.13 996.20,221.12 996.70,221.12 997.20,221.11 997.70,221.09 998.20,221.07 998.70,221.03 999.20,220.97 999.70,220.88 1000.20,220.75 1000.70,220.57 1001.20,220.33 1001.70,220.04 1002.20,219.72 1002.70,219.39 1003.20,219.08 1003.70,218.85 1004.20,218.77 1004.70,218.85 1005.20,219.08 1005.70,219.39 1006.20,219.72 1006.70,220.05 1007.20,220.34 1007.70,220.57 1008.20,220.76 1008.70,220.89 1009.20,220.98 1009.70,221.04 1010.20,221.08 1010.70,221.10 1011.20,221.12 1011.70,221.13 1012.20,221.14 1012.70,221.14 1013.20,221.14 1013.70,221.15 1014.20,221.15 1014.70,221.15 1015.20,221.15" stroke="#c2c2c2" stroke-width="1.00" fill="none"/>
<polyline points="621.40,498.23 621.90,498.23 622.40,498.22 622.90,498.22 623.40,498.22 623.90,498.21 624.40,498.21 624.90,498.20 625.40,498.20 625.90,498.19 626.40,498.19 626.90,498.18 627.40,498.17 627.90,498.17 628.40,498.16 628.90,498.15 629.40,498.15 629.90,498.14 630.40,498.13 630.90,498.12 631.40,498.11 631.90,498.10 632.40,498.09 632.90,498.08 633.40,498.07 633.90,498.06 634.40,498.05 634.90,498.03 635.40,498.02 635.90,498.00 636.40,497.99 636.90,497.97 637.40,497.95 637.90,497.93 638.40,497.91 638.90,497.88 639.40,497.86 639.90,497.83 640.40,497.80 640.90,497.77 641.40,497.73 641.90,497.69 642.40,497.65 642.90,497.60 643.40,497.55 643.90,497.49 644.40,497.42 644.90,497.35 645.40,497.27 645.90,497.18 646.40,497.07 646.90,496.95 647.40,496.81 647.90,496.65 648.40,496.46 648.90,496.21 649.40,495.89 649.90,495.43 650.40,494.74 650.90,493.65 651.40,491.88 651.90,489.05 652.40,484.62 652.90,478.00 653.40,468.57 653.90,455.92 654.40,439.98 654.90,421.19 655.40,400.68 655.90,380.29 656.40,362.76 656.90,351.80 657.40,350.72 657.90,359.91 658.40,376.43 658.90,396.49 659.40,417.12 659.90,436.24 660.40,452.42 660.90,464.79 661.40,473.11 661.90,478.04 662.40,481.14 662.90,484.06 663.40,487.47 663.90,490.86 664.40,493.46 664.90,495.04 665.40,495.84 665.90,496.23 666.40,496.46 666.90,496.63 667.40,496.76 667.90,496.87 668.40,496.97 668.90,497.05 669.40,497.12 669.90,497.18 670.40,497.23 670.90,497.27 671.40,497.31 671.90,497.34 672.40,497.36 672.90,497.38 673.40,497.39 673.90,497.40 674.40,497.40 674.90,497.40 675.40,497.39 675.90,497.37 676.40,497.35 676.90,497.32 677.40,497.28 677.90,497.23 678.40,497.18 678.90,497.10 679.40,497.01 679.90,496.88 680.40,496.71 680.90,496.44 681.40,496.02 681.90,495.33 682.40,494.22 682.90,492.46 683.40,489.77 683.90,485.86 684.40,480.49 684.90,473.53 685.40,465.10 685.90,455.61 686.40,445.77 686.90,436.71 687.40,430.03 687.90,427.52 688.40,430.03 688.90,436.70 689.40,445.76 689.90,455.59 690.40,465.05 690.90,473.36 691.40,480.00 691.90,484.70 692.40,487.62 692.90,489.33 693.40,490.67 693.90,492.20 694.40,493.85 694.90,495.27 695.40,496.20 695.90,496.69 696.40,496.93 696.90,497.06 697.40,497.13 697.90,497.19 698.40,497.23 698.90,497.27 699.40,497.30 699.90,497.32 700.40,497.33 700.90,497.34 701.40,497.34 701.90,497.33 702.40,497.32 702.90,497.31 703.40,497.29 703.90,497.26 704.40,497.23 704.90,497.19 705.40,497.14 705.90,497.08 706.40,497.02 706.90,496.95 707.40,496.86 707.90,496.76 708.40,496.65 708.90,496.51 709.40,496.36 709.90,496.17 710.40,495.93 710.90,495.63 711.40,495.20 711.90,494.57 712.40,493.59 712.90,492.00 713.40,489.44 713.90,485.38 714.40,479.19 714.90,470.19 715.40,457.83 715.90,441.83 716.40,422.45 716.90,400.61 717.40,377.98 717.90,357.15 718.40,341.80 718.90,336.01 719.40,341.79 719.90,357.15 720.40,377.97 720.90,400.58 721.40,422.34 721.90,441.45 722.40,456.71 722.90,467.54 723.40,474.25 723.90,478.20 724.40,481.30 724.90,484.81 725.40,488.63 725.90,491.90 726.40,494.06 726.90,495.22 727.40,495.79 727.90,496.09 728.40,496.29 728.90,496.45 729.40,496.57 729.90,496.68 730.40,496.78 730.90,496.86 731.40,496.93 731.90,496.98 732.40,497.03 732.90,497.07 733.40,497.10 733.90,497.12 734.40,497.14 734.90,497.15 735.40,497.16 735.90,497.15 736.40,497.14 736.90,497.13 737.40,497.10 737.90,497.07 738.40,497.03 738.90,496.97 739.40,496.91 739.90,496.83 740.40,496.74 740.90,496.62 741.40,496.46 741.90,496.26 742.40,495.95 742.90,495.49 743.40,494.75 743.90,493.55 744.40,491.62 744.90,488.60 745.40,484.07 745.90,477.62 746.40,468.97 746.90,458.05 747.40,445.20 747.90,431.16 748.40,417.20 748.90,405.21 749.40,397.70 749.90,396.96 750.40,403.26 750.90,414.57 751.40,428.30 751.90,442.43 752.40,455.51 752.90,466.59 753.40,475.06 753.90,480.75 754.40,484.13 754.90,486.25 755.40,488.24 755.90,490.57 756.40,492.88 756.90,494.66 757.40,495.73 757.90,496.27 758.40,496.54 758.90,496.68 759.40,496.79 759.90,496.87 760.40,496.93 760.90,496.98 761.40,497.02 761.90,497.06 762.40,497.08 762.90,497.09 763.40,497.10 763.90,497.10 764.40,497.10 764.90,497.08 765.40,497.06 765.90,497.03 766.40,497.00 766.90,496.95 767.40,496.90 767.90,496.84 768.40,496.76 768.90,496.68 769.40,496.57 769.90,496.45 770.40,496.31 770.90,496.14 771.40,495.94 771.90,495.69 772.40,495.36 772.90,494.91 773.40,494.23 773.90,493.17 774.40,491.45 774.90,488.67 775.40,484.28 775.90,477.57 776.40,467.82 776.90,454.42 777.40,437.08 777.90,416.08 778.40,392.41 778.90,367.88 779.40,345.31 779.90,328.67 780.40,322.40 780.90,328.67 781.40,345.31 781.90,367.89 782.40,392.39 782.90,415.99 783.40,436.70 783.90,453.24 784.40,464.98 784.90,472.26 785.40,476.54 785.90,479.91 786.40,483.72 786.90,487.86 787.40,491.40 787.90,493.75 788.40,495.01 788.90,495.63 789.40,495.96 789.90,496.18 790.40,496.35 790.90,496.50 791.40,496.62 791.90,496.72 792.40,496.82 792.90,496.89 793.40,496.96 793.90,497.02 794.40,497.07 794.90,497.11 795.40,497.14 795.90,497.17 796.40,497.19 796.90,497.20 797.40,497.20 797.90,497.21 798.40,497.20 798.90,497.19 799.40,497.17 799.90,497.14 800.40,497.10 800.90,497.05 801.40,497.00 801.90,496.92 802.40,496.83 802.90,496.72 803.40,496.57 803.90,496.35 804.40,496.04 804.90,495.54 805.40,494.74 805.90,493.43 806.40,491.34 806.90,488.12 807.40,483.39 807.90,476.80 808.40,468.18 808.90,457.59 809.40,445.47 809.90,432.68 810.40,420.56 810.90,411.08 811.40,406.58 811.90,408.56 812.40,416.33 812.90,427.67 813.40,440.39 813.90,452.88 814.40,464.04 814.90,473.14 815.40,479.77 815.90,483.98 816.40,486.44 816.90,488.21 817.40,490.13 817.90,492.29 818.40,494.24 818.90,495.59 819.40,496.34 819.90,496.71 820.40,496.90 820.90,497.02 821.40,497.11 821.90,497.19 822.40,497.25 822.90,497.30 823.40,497.34 823.90,497.38 824.40,497.41 824.90,497.43 825.40,497.45 825.90,497.46 826.40,497.47 826.90,497.47 827.40,497.47 827.90,497.46 828.40,497.45 828.90,497.43 829.40,497.41 829.90,497.38 830.40,497.34 830.90,497.30 831.40,497.24 831.90,497.18 832.40,497.10 832.90,497.00 833.40,496.88 833.90,496.72 834.40,496.51 834.90,496.19 835.40,495.69 835.90,494.88 836.40,493.56 836.90,491.47 837.40,488.25 837.90,483.52 838.40,476.93 838.90,468.30 839.40,457.71 839.90,445.59 840.40,432.80 840.90,420.68 841.40,411.20 841.90,406.70 842.40,408.68 842.90,416.45 843.40,427.79 843.90,440.50 844.40,452.99 844.90,464.16 845.40,473.26 845.90,479.89 846.40,484.10 846.90,486.56 847.40,488.34 847.90,490.26 848.40,492.42 848.90,494.37 849.40,495.72 849.90,496.48 850.40,496.85 850.90,497.04 851.40,497.17 851.90,497.26 852.40,497.34 852.90,497.41 853.40,497.47 853.90,497.52 854.40,497.56 854.90,497.60 855.40,497.63 855.90,497.66 856.40,497.68 856.90,497.70 857.40,497.72 857.90,497.73 858.40,497.74 858.90,497.74 859.40,497.75 859.90,497.74 860.40,497.74 860.90,497.73 861.40,497.72 861.90,497.71 862.40,497.68 862.90,497.66 863.40,497.63 863.90,497.59 864.40,497.53 864.90,497.47 865.40,497.37 865.90,497.24 866.40,497.03 866.90,496.70 867.40,496.16 867.90,495.28 868.40,493.91 868.90,491.86 869.40,488.94 869.90,485.01 870.40,480.06 870.90,474.23 871.40,467.87 871.90,461.53 872.40,456.09 872.90,452.69 873.40,452.36 873.90,455.22 874.40,460.35 874.90,466.58 875.40,473.00 875.90,478.94 876.40,483.97 876.90,487.81 877.40,490.40 877.90,491.93 878.40,492.89 878.90,493.80 879.40,494.86 879.90,495.91 880.40,496.73 880.90,497.21 881.40,497.46 881.90,497.59 882.40,497.66 882.90,497.71 883.40,497.75 883.90,497.78 884.40,497.81 884.90,497.84 885.40,497.86 885.90,497.87 886.40,497.89 886.90,497.90 887.40,497.90 887.90,497.91 888.40,497.91 888.90,497.91 889.40,497.91 889.90,497.91 890.40,497.90 890.90,497.89 891.40,497.88 891.90,497.86 892.40,497.84 892.90,497.82 893.40,497.79 893.90,497.76 894.40,497.72 894.90,497.67 895.40,497.61 895.90,497.54 896.40,497.44 896.90,497.29 897.40,497.07 897.90,496.71 898.40,496.13 898.90,495.19 899.40,493.73 899.90,491.53 900.40,488.41 900.90,484.22 901.40,478.94 901.90,472.71 902.40,465.92 902.90,459.16 903.40,453.35 903.90,449.72 904.40,449.36 904.90,452.41 905.40,457.89 905.90,464.55 906.40,471.39 906.90,477.73 907.40,483.10 907.90,487.20 908.40,489.96 908.90,491.60 909.40,492.63 909.90,493.60 910.40,494.73 910.90,495.86 911.40,496.72 911.90,497.25 912.40,497.51 912.90,497.65 913.40,497.73 913.90,497.78 914.40,497.83 914.90,497.87 915.40,497.90 915.90,497.93 916.40,497.96 916.90,497.98 917.40,498.00 917.90,498.02 918.40,498.03 918.90,498.05 919.40,498.06 919.90,498.07 920.40,498.08 920.90,498.08 921.40,498.09 921.90,498.09 922.40,498.09 922.90,498.09 923.40,498.09 923.90,498.09 924.40,498.09 924.90,498.08 925.40,498.07 925.90,498.06 926.40,498.04 926.90,498.02 927.40,497.98 927.90,497.93 928.40,497.85 928.90,497.72 929.40,497.50 929.90,497.15 930.40,496.61 930.90,495.82 931.40,494.71 931.90,493.26 932.40,491.48 932.90,489.45 933.40,487.30 933.90,485.26 934.40,483.67 934.90,482.91 935.40,483.25 935.90,484.56 936.40,486.46 936.90,488.60 937.40,490.70 937.90,492.58 938.40,494.11 938.90,495.23 939.40,495.94 939.90,496.35 940.40,496.65 940.90,496.98 941.40,497.34 941.90,497.67 942.40,497.90 942.90,498.02 943.40,498.09 943.90,498.12 944.40,498.14 944.90,498.16 945.40,498.17 945.90,498.18 946.40,498.20 946.90,498.20 947.40,498.21 947.90,498.22 948.40,498.22 948.90,498.23 949.40,498.23 949.90,498.24 950.40,498.24 950.90,498.24 951.40,498.24 951.90,498.24 952.40,498.24 952.90,498.24 953.40,498.24 953.90,498.24 954.40,498.24 954.90,498.23 955.40,498.23 955.90,498.22 956.40,498.21 956.90,498.20 957.40,498.19 957.90,498.17 958.40,498.15 958.90,498.11 959.40,498.05 959.90,497.95 960.40,497.79 960.90,497.53 961.40,497.14 961.90,496.59 962.40,495.83 962.90,494.86 963.40,493.70 963.90,492.42 964.40,491.12 964.90,489.95 965.40,489.16 965.90,488.96 966.40,489.42 966.90,490.39 967.40,491.64 967.90,492.95 968.40,494.19 968.90,495.26 969.40,496.09 969.90,496.67 970.40,497.02 970.90,497.23 971.40,497.41 971.90,497.63 972.40,497.85 972.90,498.02 973.40,498.14 973.90,498.20 974.40,498.23 974.90,498.24 975.40,498.25 975.90,498.26 976.40,498.27 976.90,498.28 977.40,498.29 977.90,498.29 978.40,498.30 978.90,498.30 979.40,498.30 979.90,498.31 980.40,498.31 980.90,498.31 981.40,498.32 981.90,498.32 982.40,498.32 982.90,498.32 983.40,498.32 983.90,498.32 984.40,498.33 984.90,498.33 985.40,498.33 985.90,498.33 986.40,498.33 986.90,498.33 987.40,498.33 987.90,498.33 988.40,498.32 988.90,498.32 989.40,498.32 989.90,498.31 990.40,498.30 990.90,498.28 991.40,498.24 991.90,498.19 992.40,498.11 992.90,498.00 993.40,497.84 993.90,497.65 994.40,497.42 994.90,497.18 995.40,496.93 995.90,496.72 996.40,496.58 996.90,496.57 997.40,496.68 997.90,496.89 998.40,497.13 998.90,497.38 999.40,497.61 999.90,497.81 1000.40,497.96 1000.90,498.06 1001.40,498.12 1001.90,498.16 1002.40,498.20 1002.90,498.24 1003.40,498.28 1003.90,498.31 1004.40,498.33 1004.90,498.34 1005.40,498.35 1005.90,498.35 1006.40,498.35 1006.90,498.35 1007.40,498.35 1007.90,498.36 1008.40,498.36 1008.90,498.36 1009.40,498.36" stroke="#c2c2c2" stroke-width="1.00" fill="none"/>
<g fill="#000">
<text x="3.45" y="34.70" font-size="20.34" font-weight="normal" fill="#000">100</text>
<text x="24.30" y="266.70" font-size="20.50" font-weight="normal" fill="#000">0</text>
<text x="3.45" y="302.90" font-size="20.34" font-weight="normal" fill="#000">100</text>
<text x="24.30" y="535.30" font-size="20.50" font-weight="normal" fill="#000">0</text>
<text x="2.36" y="593.70" font-size="20.28" font-weight="normal" fill="#000">100</text>
<text x="23.50" y="825.80" font-size="20.50" font-weight="normal" fill="#000">0</text>
<text x="0" y="0" font-size="20.5" text-anchor="middle" transform="translate(31.20 140.70) rotate(-90) scale(0.96 1.09)" dy="7.2">%</text>
<text x="0" y="0" font-size="20.5" text-anchor="middle" transform="translate(31.00 408.40) rotate(-90) scale(0.96 1.09)" dy="7.2">%</text>
<text x="0" y="0" font-size="20.5" text-anchor="middle" transform="translate(29.10 699.10) rotate(-90) scale(0.96 1.09)" dy="7.2">%</text>
<text x="66.99" y="60.29" font-size="37.25" font-weight="normal" fill="#000">(c)</text>
<text x="65.89" y="313.79" font-size="37.25" font-weight="normal" fill="#000">(b)</text>
<text x="65.07" y="613.12" font-size="37.57" font-weight="normal" fill="#000">(a)</text>
<text transform="translate(115.04 20.71) scale(1 1.035)" font-size="28.75" font-weight="normal" fill="#000">431.0989</text>
<text transform="translate(239.05 177.71) scale(1 1.035)" font-size="28.52" font-weight="normal" fill="#000">453.0870</text>
<text transform="translate(366.03 33.51) scale(1 1.035)" font-size="29.00" font-weight="normal" fill="#000">495.0216</text>
<text transform="translate(430.34 141.41) scale(1 1.035)" font-size="28.75" font-weight="normal" fill="#000">496.0202</text>
<text transform="translate(462.65 215.91) scale(1 1.035)" font-size="28.80" font-weight="normal" fill="#000">520.9008</text>
<text transform="translate(114.64 298.91) scale(1 1.035)" font-size="28.70" font-weight="normal" fill="#000">431.0872</text>
<text transform="translate(366.54 406.41) scale(1 1.035)" font-size="28.65" font-weight="normal" fill="#000">494.9960</text>
<text transform="translate(201.86 443.12) scale(1 1.035)" font-size="27.96" font-weight="normal" fill="#000">453.0751</text>
<text transform="translate(426.05 454.71) scale(1 1.035)" font-size="28.37" font-weight="normal" fill="#000">495.4951</text>
<text transform="translate(200.75 578.21) scale(1 1.035)" font-size="28.30" font-weight="normal" fill="#000">453.0751</text>
<text transform="translate(114.75 770.71) scale(1 1.035)" font-size="28.50" font-weight="normal" fill="#000">431.1024</text>
<text transform="translate(287.44 735.41) scale(1 1.035)" font-size="28.90" font-weight="normal" fill="#000">475.0568</text>
<text transform="translate(345.43 783.11) scale(1 1.035)" font-size="29.12" font-weight="normal" fill="#000">476.0669</text>
<text x="623.78" y="84.02" font-size="18.37" font-weight="normal" fill="#000">493.0490</text>
<text x="678.68" y="43.42" font-size="18.25" font-weight="normal" fill="#000">494.0490</text>
<text x="766.48" y="29.62" font-size="18.35" font-weight="normal" fill="#000">495.0490</text>
<text x="820.68" y="121.22" font-size="18.47" font-weight="normal" fill="#000">496.0490</text>
<text x="891.28" y="169.32" font-size="18.25" font-weight="normal" fill="#000">497.0490</text>
<text x="953.18" y="205.32" font-size="18.25" font-weight="normal" fill="#000">498.0490</text>
<text x="621.99" y="347.53" font-size="17.84" font-weight="normal" fill="#000">492.9943</text>
<text x="696.99" y="333.03" font-size="17.71" font-weight="normal" fill="#000">493.9988</text>
<text x="769.49" y="318.23" font-size="17.74" font-weight="normal" fill="#000">494.9960</text>
<text x="791.90" y="391.13" font-size="17.56" font-weight="normal" fill="#000">495.4951</text>
<text x="843.89" y="406.53" font-size="17.80" font-weight="normal" fill="#000">495.9994</text>
<text x="890.89" y="442.53" font-size="17.89" font-weight="normal" fill="#000">496.9937</text>
<text x="956.49" y="485.53" font-size="17.82" font-weight="normal" fill="#000">498.0022</text>
<text x="896.72" y="55.79" font-size="31.67" font-weight="normal" fill="#000">simulated</text>
<text x="851.51" y="349.71" font-size="30.31" font-weight="normal" fill="#000">experimental</text>
<text transform="translate(113.15 848.8) scale(1 1.02)" font-size="24.5" text-anchor="middle">420</text>
<text transform="translate(191.85 848.8) scale(1 1.02)" font-size="24.5" text-anchor="middle">440</text>
<text transform="translate(270.55 848.8) scale(1 1.02)" font-size="24.5" text-anchor="middle">460</text>
<text transform="translate(349.25 848.8) scale(1 1.02)" font-size="24.5" text-anchor="middle">480</text>
<text transform="translate(427.95 848.8) scale(1 1.02)" font-size="24.5" text-anchor="middle">500</text>
<text transform="translate(506.65 848.8) scale(1 1.02)" font-size="24.5" text-anchor="middle">520</text>
<text transform="translate(585.35 848.8) scale(1 1.02)" font-size="24.5" text-anchor="middle">540</text>
<text transform="translate(664.05 848.8) scale(1 1.02)" font-size="24.5" text-anchor="middle">560</text>
<text transform="translate(742.75 848.8) scale(1 1.02)" font-size="24.5" text-anchor="middle">580</text>
<text transform="translate(821.45 848.8) scale(1 1.02)" font-size="24.5" text-anchor="middle">600</text>
<text transform="translate(900.15 848.8) scale(1 1.02)" font-size="24.5" text-anchor="middle">620</text>
<text transform="translate(978.85 848.8) scale(1 1.02)" font-size="24.5" text-anchor="middle">640</text>
<text x="1009.77" y="829.80" font-size="24.50" font-weight="normal" fill="#000">m/z</text>
<text x="357.70" y="354.00" font-size="28.50" font-weight="bold" fill="#000">[</text>
<text x="366.79" y="354.00" font-size="28.50" font-weight="bold" fill="#000">L</text>
<text x="383.96" y="360.60" font-size="18.50" font-weight="bold" fill="#000">2</text>
<text x="393.95" y="354.00" font-size="28.50" font-weight="bold" fill="#000">Z</text>
<text x="412.22" y="354.00" font-size="28.50" font-weight="bold" fill="#000">n</text>
<text x="428.96" y="360.60" font-size="18.50" font-weight="bold" fill="#000">2</text>
<text x="438.79" y="354.00" font-size="28.50" font-weight="bold" fill="#000">-</text>
<text x="448.06" y="354.00" font-size="28.50" font-weight="bold" fill="#000">6</text>
<text x="464.09" y="354.00" font-size="28.50" font-weight="bold" fill="#000">H</text>
<text x="484.32" y="345.20" font-size="18.50" font-weight="bold" fill="#000">+</text>
<text x="495.35" y="354.00" font-size="28.50" font-weight="bold" fill="#000">]</text>
<text x="504.66" y="345.60" font-size="18.50" font-weight="bold" fill="#000">2</text>
<text x="515.28" y="345.60" font-size="18.50" font-weight="bold" fill="#000">-</text>
<text x="261.10" y="619.30" font-size="28.50" font-weight="bold" fill="#000">[</text>
<text x="270.19" y="619.30" font-size="28.50" font-weight="bold" fill="#000">L</text>
<text x="287.70" y="619.30" font-size="28.50" font-weight="bold" fill="#000">+</text>
<text x="304.49" y="619.30" font-size="28.50" font-weight="bold" fill="#000">N</text>
<text x="324.87" y="619.30" font-size="28.50" font-weight="bold" fill="#000">a</text>
<text x="339.32" y="610.10" font-size="18.50" font-weight="bold" fill="#000">+</text>
<text x="350.79" y="619.30" font-size="28.50" font-weight="bold" fill="#000">-</text>
<text x="359.91" y="619.30" font-size="28.50" font-weight="bold" fill="#000">2</text>
<text x="375.69" y="619.30" font-size="28.50" font-weight="bold" fill="#000">H</text>
<text x="395.62" y="610.10" font-size="18.50" font-weight="bold" fill="#000">+</text>
<text x="407.65" y="619.30" font-size="28.50" font-weight="bold" fill="#000">]</text>
<text x="417.08" y="610.80" font-size="18.50" font-weight="bold" fill="#000">-</text>
<text x="125.60" y="727.30" font-size="28.50" font-weight="bold" fill="#000">[</text>
<text x="135.29" y="727.30" font-size="28.50" font-weight="bold" fill="#000">L</text>
<text x="152.39" y="727.30" font-size="28.50" font-weight="bold" fill="#000">-</text>
<text x="161.49" y="727.30" font-size="28.50" font-weight="bold" fill="#000">H</text>
<text x="181.62" y="718.40" font-size="18.50" font-weight="bold" fill="#000">+</text>
<text x="192.95" y="727.30" font-size="28.50" font-weight="bold" fill="#000">]</text>
<text x="202.08" y="719.20" font-size="18.50" font-weight="bold" fill="#000">-</text>
</g>
</svg>
</body></html>
